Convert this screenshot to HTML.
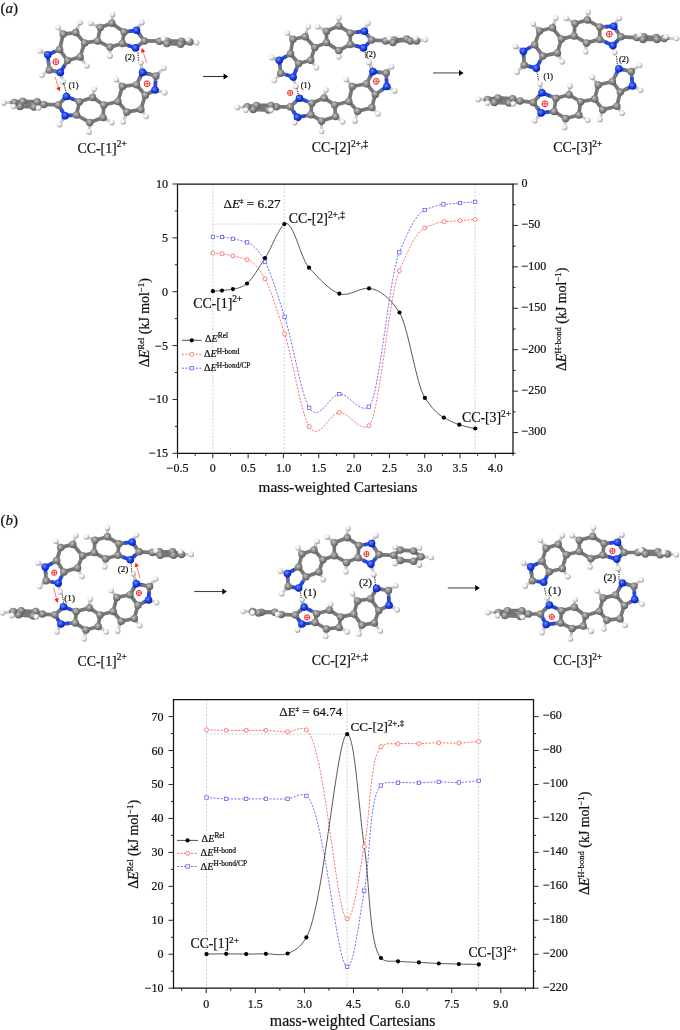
<!DOCTYPE html>
<html><head><meta charset="utf-8"><style>
html,body{margin:0;padding:0;background:#fff;}
#wrap{position:relative;width:680px;height:1030px;overflow:hidden;background:#fff;}
#wrap svg{position:absolute;left:0;top:0;display:block;}
#txt{filter:grayscale(1);}
text{font-family:"Liberation Serif",serif;fill:#111;stroke:#111;stroke-width:0.22px;}
</style></head><body><div id="wrap">
<svg width="680" height="1030" viewBox="0 0 680 1030">
<rect width="680" height="1030" fill="#fff"/>
<line x1="212.8" y1="184" x2="212.8" y2="453.3" stroke="#c4c4c4" stroke-width="0.8" stroke-dasharray="2,1.6"/>
<line x1="284.3" y1="184" x2="284.3" y2="453.3" stroke="#c4c4c4" stroke-width="0.8" stroke-dasharray="2,1.6"/>
<line x1="475.2" y1="184" x2="475.2" y2="453.3" stroke="#c4c4c4" stroke-width="0.8" stroke-dasharray="2,1.6"/>
<line x1="212.8" y1="224.1" x2="284.3" y2="224.1" stroke="#c4c4c4" stroke-width="0.8" stroke-dasharray="2,1.6"/>
<path d="M212.9,253.2 C215.93,253.21 218.97,253.36 222,253.8 C225.63,254.33 229.27,255.16 232.9,255.9 C237.63,256.86 242.37,258.28 247.1,259.7 C253.07,261.49 259.03,267.7 265,278.8 C271.53,290.96 278.07,313.71 284.6,333.9 C292.8,359.24 301,413.5 309.2,426.6 C319.23,442.63 329.27,413.24 339.3,412.5 C349.17,411.77 359.03,432.74 368.9,425.6 C379.03,418.26 389.17,294.54 399.3,270.7 C407.77,250.78 416.23,231.55 424.7,228 C431.17,225.29 437.63,222.15 444.1,221.7 C449.4,221.33 454.7,220.98 460,220.6 C465.07,220.23 470.13,219.87 475.2,219.5" fill="none" stroke="#ff4b4b" stroke-width="0.8" stroke-dasharray="2.1,1.4"/>
<path d="M212.9,236.8 C215.93,236.65 218.97,236.66 222,237 C225.63,237.4 229.27,238.15 232.9,238.8 C237.63,239.64 242.37,241.01 247.1,242.4 C253.07,244.15 259.03,250.38 265,261.8 C271.53,274.3 278.07,296.76 284.6,316.8 C292.8,341.96 301,394.58 309.2,407.8 C319.23,423.97 329.27,394.85 339.3,394.1 C349.17,393.36 359.03,413.76 368.9,406.8 C379.03,399.65 389.17,276.2 399.3,252.4 C407.77,232.52 416.23,213.22 424.7,210 C430.93,207.63 437.17,204.94 443.4,204.4 C448.93,203.92 454.47,203.4 460,203 C465.07,202.63 470.13,202.24 475.2,201.9" fill="none" stroke="#4b4bff" stroke-width="0.8" stroke-dasharray="2.1,1.4"/>
<path d="M212.9,291.2 C215.93,291.11 218.97,290.85 222,290.6 C225.63,290.3 229.27,289.66 232.9,289.1 C237.6,288.37 242.3,287.38 247,283.5 C253,278.55 259,267.1 265,258.2 C271.47,248.6 277.93,229.12 284.4,224.1 C292.6,217.74 300.8,258.96 309,267.7 C319.1,278.46 329.2,290.12 339.3,293.7 C349.2,297.21 359.1,287.41 369,288.4 C379.17,289.41 389.33,296.76 399.5,312.5 C407.97,325.6 416.43,385.44 424.9,397.9 C431.2,407.17 437.5,414.39 443.8,417.6 C448.97,420.23 454.13,423.16 459.3,424.7 C464.63,426.29 469.97,427.82 475.3,428.5" fill="none" stroke="#222" stroke-width="0.75"/>
<circle cx="212.9" cy="291.2" r="2.1" fill="#000"/>
<circle cx="222" cy="290.6" r="2.1" fill="#000"/>
<circle cx="232.9" cy="289.1" r="2.1" fill="#000"/>
<circle cx="247" cy="283.5" r="2.1" fill="#000"/>
<circle cx="265" cy="258.2" r="2.1" fill="#000"/>
<circle cx="284.4" cy="224.1" r="2.1" fill="#000"/>
<circle cx="309" cy="267.7" r="2.1" fill="#000"/>
<circle cx="339.3" cy="293.7" r="2.1" fill="#000"/>
<circle cx="369" cy="288.4" r="2.1" fill="#000"/>
<circle cx="399.5" cy="312.5" r="2.1" fill="#000"/>
<circle cx="424.9" cy="397.9" r="2.1" fill="#000"/>
<circle cx="443.8" cy="417.6" r="2.1" fill="#000"/>
<circle cx="459.3" cy="424.7" r="2.1" fill="#000"/>
<circle cx="475.3" cy="428.5" r="2.1" fill="#000"/>
<circle cx="212.9" cy="253.2" r="2" fill="#fff" stroke="#ff4b4b" stroke-width="0.7"/>
<circle cx="222" cy="253.8" r="2" fill="#fff" stroke="#ff4b4b" stroke-width="0.7"/>
<circle cx="232.9" cy="255.9" r="2" fill="#fff" stroke="#ff4b4b" stroke-width="0.7"/>
<circle cx="247.1" cy="259.7" r="2" fill="#fff" stroke="#ff4b4b" stroke-width="0.7"/>
<circle cx="265" cy="278.8" r="2" fill="#fff" stroke="#ff4b4b" stroke-width="0.7"/>
<circle cx="284.6" cy="333.9" r="2" fill="#fff" stroke="#ff4b4b" stroke-width="0.7"/>
<circle cx="309.2" cy="426.6" r="2" fill="#fff" stroke="#ff4b4b" stroke-width="0.7"/>
<circle cx="339.3" cy="412.5" r="2" fill="#fff" stroke="#ff4b4b" stroke-width="0.7"/>
<circle cx="368.9" cy="425.6" r="2" fill="#fff" stroke="#ff4b4b" stroke-width="0.7"/>
<circle cx="399.3" cy="270.7" r="2" fill="#fff" stroke="#ff4b4b" stroke-width="0.7"/>
<circle cx="424.7" cy="228" r="2" fill="#fff" stroke="#ff4b4b" stroke-width="0.7"/>
<circle cx="444.1" cy="221.7" r="2" fill="#fff" stroke="#ff4b4b" stroke-width="0.7"/>
<circle cx="460" cy="220.6" r="2" fill="#fff" stroke="#ff4b4b" stroke-width="0.7"/>
<circle cx="475.2" cy="219.5" r="2" fill="#fff" stroke="#ff4b4b" stroke-width="0.7"/>
<rect x="211.2" y="235.1" width="3.4" height="3.4" fill="#fff" stroke="#4b4bff" stroke-width="0.7"/>
<rect x="220.3" y="235.3" width="3.4" height="3.4" fill="#fff" stroke="#4b4bff" stroke-width="0.7"/>
<rect x="231.2" y="237.1" width="3.4" height="3.4" fill="#fff" stroke="#4b4bff" stroke-width="0.7"/>
<rect x="245.4" y="240.7" width="3.4" height="3.4" fill="#fff" stroke="#4b4bff" stroke-width="0.7"/>
<rect x="263.3" y="260.1" width="3.4" height="3.4" fill="#fff" stroke="#4b4bff" stroke-width="0.7"/>
<rect x="282.9" y="315.1" width="3.4" height="3.4" fill="#fff" stroke="#4b4bff" stroke-width="0.7"/>
<rect x="307.5" y="406.1" width="3.4" height="3.4" fill="#fff" stroke="#4b4bff" stroke-width="0.7"/>
<rect x="337.6" y="392.4" width="3.4" height="3.4" fill="#fff" stroke="#4b4bff" stroke-width="0.7"/>
<rect x="367.2" y="405.1" width="3.4" height="3.4" fill="#fff" stroke="#4b4bff" stroke-width="0.7"/>
<rect x="397.6" y="250.7" width="3.4" height="3.4" fill="#fff" stroke="#4b4bff" stroke-width="0.7"/>
<rect x="423" y="208.3" width="3.4" height="3.4" fill="#fff" stroke="#4b4bff" stroke-width="0.7"/>
<rect x="441.7" y="202.7" width="3.4" height="3.4" fill="#fff" stroke="#4b4bff" stroke-width="0.7"/>
<rect x="458.3" y="201.3" width="3.4" height="3.4" fill="#fff" stroke="#4b4bff" stroke-width="0.7"/>
<rect x="473.5" y="200.2" width="3.4" height="3.4" fill="#fff" stroke="#4b4bff" stroke-width="0.7"/>
<path d="M177.5,184 H513 V453.3 H177.5 Z" fill="none" stroke="#111" stroke-width="1.25"/>
<line x1="177.5" y1="453.3" x2="177.5" y2="458.3" stroke="#111" stroke-width="0.9"/>
<line x1="212.82" y1="453.3" x2="212.82" y2="458.3" stroke="#111" stroke-width="0.9"/>
<line x1="248.13" y1="453.3" x2="248.13" y2="458.3" stroke="#111" stroke-width="0.9"/>
<line x1="283.45" y1="453.3" x2="283.45" y2="458.3" stroke="#111" stroke-width="0.9"/>
<line x1="318.76" y1="453.3" x2="318.76" y2="458.3" stroke="#111" stroke-width="0.9"/>
<line x1="354.08" y1="453.3" x2="354.08" y2="458.3" stroke="#111" stroke-width="0.9"/>
<line x1="389.39" y1="453.3" x2="389.39" y2="458.3" stroke="#111" stroke-width="0.9"/>
<line x1="424.71" y1="453.3" x2="424.71" y2="458.3" stroke="#111" stroke-width="0.9"/>
<line x1="460.03" y1="453.3" x2="460.03" y2="458.3" stroke="#111" stroke-width="0.9"/>
<line x1="495.34" y1="453.3" x2="495.34" y2="458.3" stroke="#111" stroke-width="0.9"/>
<line x1="195.16" y1="453.3" x2="195.16" y2="455.9" stroke="#111" stroke-width="0.9"/>
<line x1="230.47" y1="453.3" x2="230.47" y2="455.9" stroke="#111" stroke-width="0.9"/>
<line x1="265.79" y1="453.3" x2="265.79" y2="455.9" stroke="#111" stroke-width="0.9"/>
<line x1="301.11" y1="453.3" x2="301.11" y2="455.9" stroke="#111" stroke-width="0.9"/>
<line x1="336.42" y1="453.3" x2="336.42" y2="455.9" stroke="#111" stroke-width="0.9"/>
<line x1="371.74" y1="453.3" x2="371.74" y2="455.9" stroke="#111" stroke-width="0.9"/>
<line x1="407.05" y1="453.3" x2="407.05" y2="455.9" stroke="#111" stroke-width="0.9"/>
<line x1="442.37" y1="453.3" x2="442.37" y2="455.9" stroke="#111" stroke-width="0.9"/>
<line x1="477.68" y1="453.3" x2="477.68" y2="455.9" stroke="#111" stroke-width="0.9"/>
<line x1="513" y1="453.3" x2="513" y2="455.9" stroke="#111" stroke-width="0.9"/>
<line x1="172.5" y1="184" x2="177.5" y2="184" stroke="#111" stroke-width="0.9"/>
<line x1="172.5" y1="237.86" x2="177.5" y2="237.86" stroke="#111" stroke-width="0.9"/>
<line x1="172.5" y1="291.72" x2="177.5" y2="291.72" stroke="#111" stroke-width="0.9"/>
<line x1="172.5" y1="345.58" x2="177.5" y2="345.58" stroke="#111" stroke-width="0.9"/>
<line x1="172.5" y1="399.44" x2="177.5" y2="399.44" stroke="#111" stroke-width="0.9"/>
<line x1="172.5" y1="453.3" x2="177.5" y2="453.3" stroke="#111" stroke-width="0.9"/>
<line x1="174.9" y1="210.93" x2="177.5" y2="210.93" stroke="#111" stroke-width="0.9"/>
<line x1="174.9" y1="264.79" x2="177.5" y2="264.79" stroke="#111" stroke-width="0.9"/>
<line x1="174.9" y1="318.65" x2="177.5" y2="318.65" stroke="#111" stroke-width="0.9"/>
<line x1="174.9" y1="372.51" x2="177.5" y2="372.51" stroke="#111" stroke-width="0.9"/>
<line x1="174.9" y1="426.37" x2="177.5" y2="426.37" stroke="#111" stroke-width="0.9"/>
<line x1="513" y1="184" x2="518" y2="184" stroke="#111" stroke-width="0.9"/>
<line x1="513" y1="225.43" x2="518" y2="225.43" stroke="#111" stroke-width="0.9"/>
<line x1="513" y1="266.86" x2="518" y2="266.86" stroke="#111" stroke-width="0.9"/>
<line x1="513" y1="308.29" x2="518" y2="308.29" stroke="#111" stroke-width="0.9"/>
<line x1="513" y1="349.72" x2="518" y2="349.72" stroke="#111" stroke-width="0.9"/>
<line x1="513" y1="391.15" x2="518" y2="391.15" stroke="#111" stroke-width="0.9"/>
<line x1="513" y1="432.58" x2="518" y2="432.58" stroke="#111" stroke-width="0.9"/>
<line x1="513" y1="204.72" x2="515.6" y2="204.72" stroke="#111" stroke-width="0.9"/>
<line x1="513" y1="246.15" x2="515.6" y2="246.15" stroke="#111" stroke-width="0.9"/>
<line x1="513" y1="287.58" x2="515.6" y2="287.58" stroke="#111" stroke-width="0.9"/>
<line x1="513" y1="329.01" x2="515.6" y2="329.01" stroke="#111" stroke-width="0.9"/>
<line x1="513" y1="370.44" x2="515.6" y2="370.44" stroke="#111" stroke-width="0.9"/>
<line x1="513" y1="411.87" x2="515.6" y2="411.87" stroke="#111" stroke-width="0.9"/>
<line x1="513" y1="453.3" x2="515.6" y2="453.3" stroke="#111" stroke-width="0.9"/>
<line x1="181.8" y1="340.3" x2="201.6" y2="340.3" stroke="#222" stroke-width="0.8"/>
<circle cx="191.8" cy="340.3" r="2.1" fill="#000"/>
<line x1="181.8" y1="354.3" x2="201.6" y2="354.3" stroke="#ff4b4b" stroke-width="0.8" stroke-dasharray="2.1,1.4"/>
<circle cx="191.8" cy="354.3" r="2" fill="#fff" stroke="#ff4b4b" stroke-width="0.7"/>
<line x1="181.8" y1="368.2" x2="201.6" y2="368.2" stroke="#4b4bff" stroke-width="0.8" stroke-dasharray="2.1,1.4"/>
<rect x="190.1" y="366.5" width="3.4" height="3.4" fill="#fff" stroke="#4b4bff" stroke-width="0.7"/>
<line x1="206.5" y1="699.6" x2="206.5" y2="988.2" stroke="#c4c4c4" stroke-width="0.8" stroke-dasharray="2,1.6"/>
<line x1="347.2" y1="699.6" x2="347.2" y2="988.2" stroke="#c4c4c4" stroke-width="0.8" stroke-dasharray="2,1.6"/>
<line x1="478.7" y1="699.6" x2="478.7" y2="988.2" stroke="#c4c4c4" stroke-width="0.8" stroke-dasharray="2,1.6"/>
<line x1="206.5" y1="734.1" x2="347.2" y2="734.1" stroke="#c4c4c4" stroke-width="0.8" stroke-dasharray="2,1.6"/>
<path d="M206.5,729.8 C213.07,730 219.61,730.3 226.2,730.4 C232.84,730.5 239.56,730.4 246.2,730.4 C252.79,730.4 259.18,730.17 265.9,730.4 C272.96,730.64 280.63,732.03 287.6,731.9 C294.1,731.78 300.61,725.72 306.4,729.9 C324.91,743.28 336.32,918.79 347.2,918.9 C353.94,918.97 359.03,872.74 364.3,846.6 C370.45,816.08 369.65,758.09 381,746.7 C385.68,742 392.02,744.34 398,743.8 C404.59,743.21 412.02,743.77 418.9,743.6 C425.62,743.43 432.15,742.88 438.8,742.8 C445.48,742.72 452.23,743.34 458.9,743.1 C465.53,742.87 472.1,741.97 478.7,741.4" fill="none" stroke="#ff4b4b" stroke-width="0.8" stroke-dasharray="2.1,1.4"/>
<path d="M206.5,797.5 C213.07,797.97 219.6,798.67 226.2,798.9 C232.84,799.14 239.56,798.9 246.2,798.9 C252.79,798.9 259.17,798.92 265.9,798.9 C272.96,798.88 280.65,799.35 287.6,798.8 C294.11,798.29 300.58,791.99 306.4,795.9 C324.1,807.79 336.63,966.87 347.2,966.8 C354.24,966.75 359.06,918.21 364.3,890.7 C370.43,858.56 369.13,797.24 380.8,785.5 C385.52,780.75 391.97,783.17 398,782.7 C404.61,782.18 412.02,782.94 418.9,782.8 C425.62,782.66 432.15,781.95 438.8,781.9 C445.48,781.85 452.23,782.69 458.9,782.5 C465.53,782.31 472.1,781.37 478.7,780.8" fill="none" stroke="#4b4bff" stroke-width="0.8" stroke-dasharray="2.1,1.4"/>
<path d="M206.5,954.1 C213.07,954 219.61,953.8 226.2,953.8 C232.84,953.8 239.56,954.1 246.2,954.1 C252.79,954.1 259.17,953.9 265.9,953.8 C272.96,953.7 281.03,955.98 287.6,953.5 C294.62,950.85 300.54,947.4 306.4,937.4 C323.37,908.45 336.99,733.86 347.2,734.1 C354.76,734.28 358.65,809.27 364.3,846.7 C369.92,883.91 369.06,945.53 381,958 C385.69,962.89 392.01,960.57 398,961.3 C404.58,962.11 412.02,962.03 418.9,962.4 C425.61,962.76 432.16,963.22 438.8,963.5 C445.46,963.78 452.13,963.95 458.8,964.1 C465.47,964.25 472.13,964.3 478.8,964.4" fill="none" stroke="#222" stroke-width="0.75"/>
<circle cx="206.5" cy="954.1" r="2.1" fill="#000"/>
<circle cx="226.2" cy="953.8" r="2.1" fill="#000"/>
<circle cx="246.2" cy="954.1" r="2.1" fill="#000"/>
<circle cx="265.9" cy="953.8" r="2.1" fill="#000"/>
<circle cx="287.6" cy="953.5" r="2.1" fill="#000"/>
<circle cx="306.4" cy="937.4" r="2.1" fill="#000"/>
<circle cx="347.2" cy="734.1" r="2.1" fill="#000"/>
<circle cx="381" cy="958" r="2.1" fill="#000"/>
<circle cx="398" cy="961.3" r="2.1" fill="#000"/>
<circle cx="418.9" cy="962.4" r="2.1" fill="#000"/>
<circle cx="438.8" cy="963.5" r="2.1" fill="#000"/>
<circle cx="458.8" cy="964.1" r="2.1" fill="#000"/>
<circle cx="478.8" cy="964.4" r="2.1" fill="#000"/>
<circle cx="206.5" cy="729.8" r="2" fill="#fff" stroke="#ff4b4b" stroke-width="0.7"/>
<circle cx="226.2" cy="730.4" r="2" fill="#fff" stroke="#ff4b4b" stroke-width="0.7"/>
<circle cx="246.2" cy="730.4" r="2" fill="#fff" stroke="#ff4b4b" stroke-width="0.7"/>
<circle cx="265.9" cy="730.4" r="2" fill="#fff" stroke="#ff4b4b" stroke-width="0.7"/>
<circle cx="287.6" cy="731.9" r="2" fill="#fff" stroke="#ff4b4b" stroke-width="0.7"/>
<circle cx="306.4" cy="729.9" r="2" fill="#fff" stroke="#ff4b4b" stroke-width="0.7"/>
<circle cx="347.2" cy="918.9" r="2" fill="#fff" stroke="#ff4b4b" stroke-width="0.7"/>
<circle cx="364.3" cy="846.6" r="2" fill="#fff" stroke="#ff4b4b" stroke-width="0.7"/>
<circle cx="381" cy="746.7" r="2" fill="#fff" stroke="#ff4b4b" stroke-width="0.7"/>
<circle cx="398" cy="743.8" r="2" fill="#fff" stroke="#ff4b4b" stroke-width="0.7"/>
<circle cx="418.9" cy="743.6" r="2" fill="#fff" stroke="#ff4b4b" stroke-width="0.7"/>
<circle cx="438.8" cy="742.8" r="2" fill="#fff" stroke="#ff4b4b" stroke-width="0.7"/>
<circle cx="458.9" cy="743.1" r="2" fill="#fff" stroke="#ff4b4b" stroke-width="0.7"/>
<circle cx="478.7" cy="741.4" r="2" fill="#fff" stroke="#ff4b4b" stroke-width="0.7"/>
<rect x="204.8" y="795.8" width="3.4" height="3.4" fill="#fff" stroke="#4b4bff" stroke-width="0.7"/>
<rect x="224.5" y="797.2" width="3.4" height="3.4" fill="#fff" stroke="#4b4bff" stroke-width="0.7"/>
<rect x="244.5" y="797.2" width="3.4" height="3.4" fill="#fff" stroke="#4b4bff" stroke-width="0.7"/>
<rect x="264.2" y="797.2" width="3.4" height="3.4" fill="#fff" stroke="#4b4bff" stroke-width="0.7"/>
<rect x="285.9" y="797.1" width="3.4" height="3.4" fill="#fff" stroke="#4b4bff" stroke-width="0.7"/>
<rect x="304.7" y="794.2" width="3.4" height="3.4" fill="#fff" stroke="#4b4bff" stroke-width="0.7"/>
<rect x="345.5" y="965.1" width="3.4" height="3.4" fill="#fff" stroke="#4b4bff" stroke-width="0.7"/>
<rect x="362.6" y="889" width="3.4" height="3.4" fill="#fff" stroke="#4b4bff" stroke-width="0.7"/>
<rect x="379.1" y="783.8" width="3.4" height="3.4" fill="#fff" stroke="#4b4bff" stroke-width="0.7"/>
<rect x="396.3" y="781" width="3.4" height="3.4" fill="#fff" stroke="#4b4bff" stroke-width="0.7"/>
<rect x="417.2" y="781.1" width="3.4" height="3.4" fill="#fff" stroke="#4b4bff" stroke-width="0.7"/>
<rect x="437.1" y="780.2" width="3.4" height="3.4" fill="#fff" stroke="#4b4bff" stroke-width="0.7"/>
<rect x="457.2" y="780.8" width="3.4" height="3.4" fill="#fff" stroke="#4b4bff" stroke-width="0.7"/>
<rect x="477" y="779.1" width="3.4" height="3.4" fill="#fff" stroke="#4b4bff" stroke-width="0.7"/>
<path d="M173.5,699.6 H533.5 V988.2 H173.5 Z" fill="none" stroke="#111" stroke-width="1.25"/>
<line x1="206.23" y1="988.2" x2="206.23" y2="993.2" stroke="#111" stroke-width="0.9"/>
<line x1="255.32" y1="988.2" x2="255.32" y2="993.2" stroke="#111" stroke-width="0.9"/>
<line x1="304.41" y1="988.2" x2="304.41" y2="993.2" stroke="#111" stroke-width="0.9"/>
<line x1="353.5" y1="988.2" x2="353.5" y2="993.2" stroke="#111" stroke-width="0.9"/>
<line x1="402.59" y1="988.2" x2="402.59" y2="993.2" stroke="#111" stroke-width="0.9"/>
<line x1="451.68" y1="988.2" x2="451.68" y2="993.2" stroke="#111" stroke-width="0.9"/>
<line x1="500.77" y1="988.2" x2="500.77" y2="993.2" stroke="#111" stroke-width="0.9"/>
<line x1="181.68" y1="988.2" x2="181.68" y2="990.8" stroke="#111" stroke-width="0.9"/>
<line x1="230.77" y1="988.2" x2="230.77" y2="990.8" stroke="#111" stroke-width="0.9"/>
<line x1="279.86" y1="988.2" x2="279.86" y2="990.8" stroke="#111" stroke-width="0.9"/>
<line x1="328.95" y1="988.2" x2="328.95" y2="990.8" stroke="#111" stroke-width="0.9"/>
<line x1="378.05" y1="988.2" x2="378.05" y2="990.8" stroke="#111" stroke-width="0.9"/>
<line x1="427.14" y1="988.2" x2="427.14" y2="990.8" stroke="#111" stroke-width="0.9"/>
<line x1="476.23" y1="988.2" x2="476.23" y2="990.8" stroke="#111" stroke-width="0.9"/>
<line x1="525.32" y1="988.2" x2="525.32" y2="990.8" stroke="#111" stroke-width="0.9"/>
<line x1="168.5" y1="716.58" x2="173.5" y2="716.58" stroke="#111" stroke-width="0.9"/>
<line x1="168.5" y1="750.53" x2="173.5" y2="750.53" stroke="#111" stroke-width="0.9"/>
<line x1="168.5" y1="784.48" x2="173.5" y2="784.48" stroke="#111" stroke-width="0.9"/>
<line x1="168.5" y1="818.44" x2="173.5" y2="818.44" stroke="#111" stroke-width="0.9"/>
<line x1="168.5" y1="852.39" x2="173.5" y2="852.39" stroke="#111" stroke-width="0.9"/>
<line x1="168.5" y1="886.34" x2="173.5" y2="886.34" stroke="#111" stroke-width="0.9"/>
<line x1="168.5" y1="920.29" x2="173.5" y2="920.29" stroke="#111" stroke-width="0.9"/>
<line x1="168.5" y1="954.25" x2="173.5" y2="954.25" stroke="#111" stroke-width="0.9"/>
<line x1="168.5" y1="988.2" x2="173.5" y2="988.2" stroke="#111" stroke-width="0.9"/>
<line x1="170.9" y1="733.55" x2="173.5" y2="733.55" stroke="#111" stroke-width="0.9"/>
<line x1="170.9" y1="767.51" x2="173.5" y2="767.51" stroke="#111" stroke-width="0.9"/>
<line x1="170.9" y1="801.46" x2="173.5" y2="801.46" stroke="#111" stroke-width="0.9"/>
<line x1="170.9" y1="835.41" x2="173.5" y2="835.41" stroke="#111" stroke-width="0.9"/>
<line x1="170.9" y1="869.36" x2="173.5" y2="869.36" stroke="#111" stroke-width="0.9"/>
<line x1="170.9" y1="903.32" x2="173.5" y2="903.32" stroke="#111" stroke-width="0.9"/>
<line x1="170.9" y1="937.27" x2="173.5" y2="937.27" stroke="#111" stroke-width="0.9"/>
<line x1="170.9" y1="971.22" x2="173.5" y2="971.22" stroke="#111" stroke-width="0.9"/>
<line x1="533.5" y1="716.58" x2="538.5" y2="716.58" stroke="#111" stroke-width="0.9"/>
<line x1="533.5" y1="750.53" x2="538.5" y2="750.53" stroke="#111" stroke-width="0.9"/>
<line x1="533.5" y1="784.48" x2="538.5" y2="784.48" stroke="#111" stroke-width="0.9"/>
<line x1="533.5" y1="818.44" x2="538.5" y2="818.44" stroke="#111" stroke-width="0.9"/>
<line x1="533.5" y1="852.39" x2="538.5" y2="852.39" stroke="#111" stroke-width="0.9"/>
<line x1="533.5" y1="886.34" x2="538.5" y2="886.34" stroke="#111" stroke-width="0.9"/>
<line x1="533.5" y1="920.29" x2="538.5" y2="920.29" stroke="#111" stroke-width="0.9"/>
<line x1="533.5" y1="954.25" x2="538.5" y2="954.25" stroke="#111" stroke-width="0.9"/>
<line x1="533.5" y1="988.2" x2="538.5" y2="988.2" stroke="#111" stroke-width="0.9"/>
<line x1="533.5" y1="733.55" x2="536.1" y2="733.55" stroke="#111" stroke-width="0.9"/>
<line x1="533.5" y1="767.51" x2="536.1" y2="767.51" stroke="#111" stroke-width="0.9"/>
<line x1="533.5" y1="801.46" x2="536.1" y2="801.46" stroke="#111" stroke-width="0.9"/>
<line x1="533.5" y1="835.41" x2="536.1" y2="835.41" stroke="#111" stroke-width="0.9"/>
<line x1="533.5" y1="869.36" x2="536.1" y2="869.36" stroke="#111" stroke-width="0.9"/>
<line x1="533.5" y1="903.32" x2="536.1" y2="903.32" stroke="#111" stroke-width="0.9"/>
<line x1="533.5" y1="937.27" x2="536.1" y2="937.27" stroke="#111" stroke-width="0.9"/>
<line x1="533.5" y1="971.22" x2="536.1" y2="971.22" stroke="#111" stroke-width="0.9"/>
<line x1="177" y1="840.4" x2="198" y2="840.4" stroke="#222" stroke-width="0.8"/>
<circle cx="187.6" cy="840.4" r="2.1" fill="#000"/>
<line x1="177" y1="853.4" x2="198" y2="853.4" stroke="#ff4b4b" stroke-width="0.8" stroke-dasharray="2.1,1.4"/>
<circle cx="187.6" cy="853.4" r="2" fill="#fff" stroke="#ff4b4b" stroke-width="0.7"/>
<line x1="177" y1="866.5" x2="198" y2="866.5" stroke="#4b4bff" stroke-width="0.8" stroke-dasharray="2.1,1.4"/>
<rect x="185.9" y="864.8" width="3.4" height="3.4" fill="#fff" stroke="#4b4bff" stroke-width="0.7"/>
<line x1="203.1" y1="76.5" x2="224.5" y2="76.5" stroke="#333" stroke-width="1.1"/>
<path d="M228.2,76.5 L223.6,73.5 L223.6,79.5 Z" fill="#000"/>
<line x1="433.1" y1="72.9" x2="460" y2="72.9" stroke="#777" stroke-width="1.4"/>
<path d="M463.6,72.9 L459,69.9 L459,75.9 Z" fill="#000"/>
<line x1="194.3" y1="591.5" x2="222.5" y2="591.5" stroke="#444" stroke-width="1.1"/>
<path d="M226.9,591.5 L222.3,588.5 L222.3,594.5 Z" fill="#000"/>
<line x1="447.8" y1="587.9" x2="475.5" y2="587.9" stroke="#777" stroke-width="1.4"/>
<path d="M479.8,587.9 L475.2,584.9 L475.2,590.9 Z" fill="#000"/>
<defs>
<radialGradient id="gC" cx="0.4" cy="0.37" r="0.68"><stop offset="0" stop-color="#c4c4c4"/><stop offset="0.5" stop-color="#868686"/><stop offset="1" stop-color="#555"/></radialGradient>
<radialGradient id="gN" cx="0.4" cy="0.37" r="0.68"><stop offset="0" stop-color="#6d8cff"/><stop offset="0.5" stop-color="#1c40e6"/><stop offset="1" stop-color="#0a1c88"/></radialGradient>
<radialGradient id="gH" cx="0.38" cy="0.35" r="0.7"><stop offset="0" stop-color="#ffffff"/><stop offset="0.5" stop-color="#ececec"/><stop offset="1" stop-color="#8a8a8a"/></radialGradient>
<filter id="soft" x="-5%" y="-5%" width="110%" height="110%"><feGaussianBlur stdDeviation="0.3"/></filter>
</defs>
<g filter="url(#soft)">
<g stroke-linecap="round">
<line x1="63.2" y1="34.1" x2="75.7" y2="32.6" stroke="#777777" stroke-width="3.7"/>
<line x1="63.2" y1="34.1" x2="59.6" y2="49.6" stroke="#777777" stroke-width="3.7"/>
<line x1="75.7" y1="32.6" x2="84.6" y2="42.9" stroke="#777777" stroke-width="3.7"/>
<line x1="84.6" y1="42.9" x2="80.1" y2="56.9" stroke="#777777" stroke-width="3.7"/>
<line x1="84.6" y1="42.9" x2="97.6" y2="40.9" stroke="#777777" stroke-width="3.7"/>
<line x1="80.1" y1="56.9" x2="67.6" y2="60.6" stroke="#777777" stroke-width="3.7"/>
<line x1="67.6" y1="60.6" x2="59.6" y2="49.6" stroke="#777777" stroke-width="3.7"/>
<line x1="67.6" y1="60.6" x2="63.95" y2="66.5" stroke="#777777" stroke-width="3.7"/>
<line x1="63.95" y1="66.5" x2="60.3" y2="72.4" stroke="#2146ea" stroke-width="3.7"/>
<line x1="59.6" y1="49.6" x2="53.7" y2="52.15" stroke="#777777" stroke-width="3.7"/>
<line x1="53.7" y1="52.15" x2="47.8" y2="54.7" stroke="#2146ea" stroke-width="3.7"/>
<line x1="47.8" y1="54.7" x2="48.55" y2="62.4" stroke="#2146ea" stroke-width="3.7"/>
<line x1="48.55" y1="62.4" x2="49.3" y2="70.1" stroke="#777777" stroke-width="3.7"/>
<line x1="60.3" y1="72.4" x2="54.8" y2="71.25" stroke="#2146ea" stroke-width="3.7"/>
<line x1="54.8" y1="71.25" x2="49.3" y2="70.1" stroke="#777777" stroke-width="3.7"/>
<line x1="97.6" y1="40.9" x2="100.3" y2="27.6" stroke="#777777" stroke-width="3.7"/>
<line x1="97.6" y1="40.9" x2="110" y2="47.1" stroke="#777777" stroke-width="3.7"/>
<line x1="100.3" y1="27.6" x2="111.8" y2="23.2" stroke="#777777" stroke-width="3.7"/>
<line x1="111.8" y1="23.2" x2="124.1" y2="32.1" stroke="#777777" stroke-width="3.7"/>
<line x1="124.1" y1="32.1" x2="122.4" y2="43.5" stroke="#777777" stroke-width="3.7"/>
<line x1="124.1" y1="32.1" x2="130.3" y2="31.2" stroke="#777777" stroke-width="3.7"/>
<line x1="130.3" y1="31.2" x2="136.5" y2="30.3" stroke="#2146ea" stroke-width="3.7"/>
<line x1="122.4" y1="43.5" x2="110" y2="47.1" stroke="#777777" stroke-width="3.7"/>
<line x1="122.4" y1="43.5" x2="129" y2="45.7" stroke="#777777" stroke-width="3.7"/>
<line x1="129" y1="45.7" x2="135.6" y2="47.9" stroke="#2146ea" stroke-width="3.7"/>
<line x1="136.5" y1="30.3" x2="140.45" y2="35.6" stroke="#2146ea" stroke-width="3.7"/>
<line x1="140.45" y1="35.6" x2="144.4" y2="40.9" stroke="#777777" stroke-width="3.7"/>
<line x1="135.6" y1="47.9" x2="140" y2="44.4" stroke="#2146ea" stroke-width="3.7"/>
<line x1="140" y1="44.4" x2="144.4" y2="40.9" stroke="#777777" stroke-width="3.7"/>
<line x1="144.4" y1="40.9" x2="159.4" y2="41.2" stroke="#777777" stroke-width="3.7"/>
<line x1="159.4" y1="41.2" x2="167.4" y2="41.2" stroke="#777777" stroke-width="3.7"/>
<line x1="159.4" y1="41.2" x2="166.9" y2="43.5" stroke="#777777" stroke-width="3.7"/>
<line x1="167.4" y1="41.2" x2="166.9" y2="43.5" stroke="#777777" stroke-width="3.7"/>
<line x1="167.4" y1="41.2" x2="181.5" y2="41.2" stroke="#777777" stroke-width="3.7"/>
<line x1="167.4" y1="41.2" x2="180.6" y2="44.3" stroke="#777777" stroke-width="3.7"/>
<line x1="166.9" y1="43.5" x2="181.5" y2="41.2" stroke="#777777" stroke-width="3.7"/>
<line x1="166.9" y1="43.5" x2="180.6" y2="44.3" stroke="#777777" stroke-width="3.7"/>
<line x1="181.5" y1="41.2" x2="180.6" y2="44.3" stroke="#777777" stroke-width="3.7"/>
<line x1="181.5" y1="41.2" x2="189.9" y2="42.1" stroke="#777777" stroke-width="3.7"/>
<line x1="180.6" y1="44.3" x2="189.9" y2="42.1" stroke="#777777" stroke-width="3.7"/>
<line x1="142.6" y1="72.4" x2="149.25" y2="74.15" stroke="#2146ea" stroke-width="3.7"/>
<line x1="149.25" y1="74.15" x2="155.9" y2="75.9" stroke="#777777" stroke-width="3.7"/>
<line x1="142.6" y1="72.4" x2="139.55" y2="78.55" stroke="#2146ea" stroke-width="3.7"/>
<line x1="139.55" y1="78.55" x2="136.5" y2="84.7" stroke="#777777" stroke-width="3.7"/>
<line x1="155.9" y1="75.9" x2="155.45" y2="82.95" stroke="#777777" stroke-width="3.7"/>
<line x1="155.45" y1="82.95" x2="155" y2="90" stroke="#2146ea" stroke-width="3.7"/>
<line x1="155" y1="90" x2="150.15" y2="92.65" stroke="#2146ea" stroke-width="3.7"/>
<line x1="150.15" y1="92.65" x2="145.3" y2="95.3" stroke="#777777" stroke-width="3.7"/>
<line x1="145.3" y1="95.3" x2="136.5" y2="84.7" stroke="#777777" stroke-width="3.7"/>
<line x1="145.3" y1="95.3" x2="140.9" y2="109.4" stroke="#777777" stroke-width="3.7"/>
<line x1="136.5" y1="84.7" x2="122.4" y2="86.5" stroke="#777777" stroke-width="3.7"/>
<line x1="122.4" y1="86.5" x2="117.9" y2="101.5" stroke="#777777" stroke-width="3.7"/>
<line x1="117.9" y1="101.5" x2="126.8" y2="112.1" stroke="#777777" stroke-width="3.7"/>
<line x1="117.9" y1="101.5" x2="103.8" y2="105" stroke="#777777" stroke-width="3.7"/>
<line x1="126.8" y1="112.1" x2="140.9" y2="109.4" stroke="#777777" stroke-width="3.7"/>
<line x1="79.4" y1="101.8" x2="92.6" y2="97.4" stroke="#777777" stroke-width="3.7"/>
<line x1="79.4" y1="101.8" x2="76.5" y2="115" stroke="#777777" stroke-width="3.7"/>
<line x1="79.4" y1="101.8" x2="72.9" y2="99.15" stroke="#777777" stroke-width="3.7"/>
<line x1="72.9" y1="99.15" x2="66.4" y2="96.5" stroke="#2146ea" stroke-width="3.7"/>
<line x1="92.6" y1="97.4" x2="103.8" y2="105" stroke="#777777" stroke-width="3.7"/>
<line x1="103.8" y1="105" x2="103" y2="117.4" stroke="#777777" stroke-width="3.7"/>
<line x1="103" y1="117.4" x2="89.7" y2="122.4" stroke="#777777" stroke-width="3.7"/>
<line x1="89.7" y1="122.4" x2="76.5" y2="115" stroke="#777777" stroke-width="3.7"/>
<line x1="76.5" y1="115" x2="70.85" y2="115.35" stroke="#777777" stroke-width="3.7"/>
<line x1="70.85" y1="115.35" x2="65.2" y2="115.7" stroke="#2146ea" stroke-width="3.7"/>
<line x1="66.4" y1="96.5" x2="62.3" y2="100.7" stroke="#2146ea" stroke-width="3.7"/>
<line x1="62.3" y1="100.7" x2="58.2" y2="104.9" stroke="#777777" stroke-width="3.7"/>
<line x1="58.2" y1="104.9" x2="61.7" y2="110.3" stroke="#777777" stroke-width="3.7"/>
<line x1="61.7" y1="110.3" x2="65.2" y2="115.7" stroke="#2146ea" stroke-width="3.7"/>
<line x1="58.2" y1="104.9" x2="43.8" y2="104.4" stroke="#777777" stroke-width="3.7"/>
<line x1="43.8" y1="104.4" x2="37.1" y2="101.8" stroke="#777777" stroke-width="3.7"/>
<line x1="43.8" y1="104.4" x2="34" y2="107" stroke="#777777" stroke-width="3.7"/>
<line x1="37.1" y1="101.8" x2="34" y2="107" stroke="#777777" stroke-width="3.7"/>
<line x1="37.1" y1="101.8" x2="22.7" y2="101.3" stroke="#777777" stroke-width="3.7"/>
<line x1="34" y1="107" x2="22.7" y2="101.3" stroke="#777777" stroke-width="3.7"/>
<line x1="34" y1="107" x2="20.1" y2="106.5" stroke="#777777" stroke-width="3.7"/>
<line x1="22.7" y1="101.3" x2="20.1" y2="106.5" stroke="#777777" stroke-width="3.7"/>
<line x1="22.7" y1="101.3" x2="14.4" y2="102.4" stroke="#777777" stroke-width="3.7"/>
<line x1="20.1" y1="106.5" x2="14.4" y2="102.4" stroke="#777777" stroke-width="3.7"/>
<line x1="63.2" y1="34.1" x2="60.65" y2="30.8" stroke="#777777" stroke-width="2.8"/>
<line x1="60.65" y1="30.8" x2="58.1" y2="27.5" stroke="#cdcdcd" stroke-width="2.8"/>
<line x1="75.7" y1="32.6" x2="77.9" y2="27.5" stroke="#777777" stroke-width="2.8"/>
<line x1="77.9" y1="27.5" x2="80.1" y2="22.4" stroke="#cdcdcd" stroke-width="2.8"/>
<line x1="80.1" y1="56.9" x2="83.45" y2="61.3" stroke="#777777" stroke-width="2.8"/>
<line x1="83.45" y1="61.3" x2="86.8" y2="65.7" stroke="#cdcdcd" stroke-width="2.8"/>
<line x1="47.8" y1="54.7" x2="43.75" y2="52.85" stroke="#2146ea" stroke-width="2.8"/>
<line x1="43.75" y1="52.85" x2="39.7" y2="51" stroke="#cdcdcd" stroke-width="2.8"/>
<line x1="49.3" y1="70.1" x2="45.6" y2="72.7" stroke="#777777" stroke-width="2.8"/>
<line x1="45.6" y1="72.7" x2="41.9" y2="75.3" stroke="#cdcdcd" stroke-width="2.8"/>
<line x1="60.3" y1="72.4" x2="61.75" y2="77.15" stroke="#2146ea" stroke-width="2.8"/>
<line x1="61.75" y1="77.15" x2="63.2" y2="81.9" stroke="#cdcdcd" stroke-width="2.8"/>
<line x1="100.3" y1="27.6" x2="95.45" y2="25.4" stroke="#777777" stroke-width="2.8"/>
<line x1="95.45" y1="25.4" x2="90.6" y2="23.2" stroke="#cdcdcd" stroke-width="2.8"/>
<line x1="111.8" y1="23.2" x2="112.2" y2="18.8" stroke="#777777" stroke-width="2.8"/>
<line x1="112.2" y1="18.8" x2="112.6" y2="14.4" stroke="#cdcdcd" stroke-width="2.8"/>
<line x1="110" y1="47.1" x2="110" y2="51.5" stroke="#777777" stroke-width="2.8"/>
<line x1="110" y1="51.5" x2="110" y2="55.9" stroke="#cdcdcd" stroke-width="2.8"/>
<line x1="136.5" y1="30.3" x2="139.15" y2="26.35" stroke="#2146ea" stroke-width="2.8"/>
<line x1="139.15" y1="26.35" x2="141.8" y2="22.4" stroke="#cdcdcd" stroke-width="2.8"/>
<line x1="159.4" y1="41.2" x2="161.4" y2="40.1" stroke="#777777" stroke-width="2.8"/>
<line x1="161.4" y1="40.1" x2="163.4" y2="39" stroke="#cdcdcd" stroke-width="2.8"/>
<line x1="189.9" y1="42.1" x2="189" y2="40.8" stroke="#777777" stroke-width="2.8"/>
<line x1="189" y1="40.8" x2="188.1" y2="39.5" stroke="#cdcdcd" stroke-width="2.8"/>
<line x1="189.9" y1="42.1" x2="193.2" y2="42.35" stroke="#777777" stroke-width="2.8"/>
<line x1="193.2" y1="42.35" x2="196.5" y2="42.6" stroke="#cdcdcd" stroke-width="2.8"/>
<line x1="142.6" y1="72.4" x2="141.75" y2="67.5" stroke="#2146ea" stroke-width="2.8"/>
<line x1="141.75" y1="67.5" x2="140.9" y2="62.6" stroke="#cdcdcd" stroke-width="2.8"/>
<line x1="155.9" y1="75.9" x2="159.85" y2="71.9" stroke="#777777" stroke-width="2.8"/>
<line x1="159.85" y1="71.9" x2="163.8" y2="67.9" stroke="#cdcdcd" stroke-width="2.8"/>
<line x1="155" y1="90" x2="159.85" y2="91.3" stroke="#2146ea" stroke-width="2.8"/>
<line x1="159.85" y1="91.3" x2="164.7" y2="92.6" stroke="#cdcdcd" stroke-width="2.8"/>
<line x1="122.4" y1="86.5" x2="119.3" y2="82.95" stroke="#777777" stroke-width="2.8"/>
<line x1="119.3" y1="82.95" x2="116.2" y2="79.4" stroke="#cdcdcd" stroke-width="2.8"/>
<line x1="126.8" y1="112.1" x2="125" y2="116.95" stroke="#777777" stroke-width="2.8"/>
<line x1="125" y1="116.95" x2="123.2" y2="121.8" stroke="#cdcdcd" stroke-width="2.8"/>
<line x1="140.9" y1="109.4" x2="143.55" y2="112.95" stroke="#777777" stroke-width="2.8"/>
<line x1="143.55" y1="112.95" x2="146.2" y2="116.5" stroke="#cdcdcd" stroke-width="2.8"/>
<line x1="92.6" y1="97.4" x2="93.35" y2="93.25" stroke="#777777" stroke-width="2.8"/>
<line x1="93.35" y1="93.25" x2="94.1" y2="89.1" stroke="#cdcdcd" stroke-width="2.8"/>
<line x1="103" y1="117.4" x2="107.4" y2="120" stroke="#777777" stroke-width="2.8"/>
<line x1="107.4" y1="120" x2="111.8" y2="122.6" stroke="#cdcdcd" stroke-width="2.8"/>
<line x1="89.7" y1="122.4" x2="89.35" y2="127.15" stroke="#777777" stroke-width="2.8"/>
<line x1="89.35" y1="127.15" x2="89" y2="131.9" stroke="#cdcdcd" stroke-width="2.8"/>
<line x1="65.2" y1="115.7" x2="62.4" y2="120.15" stroke="#2146ea" stroke-width="2.8"/>
<line x1="62.4" y1="120.15" x2="59.6" y2="124.6" stroke="#cdcdcd" stroke-width="2.8"/>
<line x1="34" y1="107" x2="36.3" y2="107.5" stroke="#777777" stroke-width="2.8"/>
<line x1="36.3" y1="107.5" x2="38.6" y2="108" stroke="#cdcdcd" stroke-width="2.8"/>
<line x1="14.4" y1="102.4" x2="13.9" y2="104.45" stroke="#777777" stroke-width="2.8"/>
<line x1="13.9" y1="104.45" x2="13.4" y2="106.5" stroke="#cdcdcd" stroke-width="2.8"/>
<line x1="14.4" y1="102.4" x2="9" y2="102.65" stroke="#777777" stroke-width="2.8"/>
<line x1="9" y1="102.65" x2="3.6" y2="102.9" stroke="#cdcdcd" stroke-width="2.8"/>
</g>
<circle cx="63.2" cy="34.1" r="3.75" fill="url(#gC)"/>
<circle cx="75.7" cy="32.6" r="3.75" fill="url(#gC)"/>
<circle cx="84.6" cy="42.9" r="3.75" fill="url(#gC)"/>
<circle cx="80.1" cy="56.9" r="3.75" fill="url(#gC)"/>
<circle cx="67.6" cy="60.6" r="3.75" fill="url(#gC)"/>
<circle cx="59.6" cy="49.6" r="3.75" fill="url(#gC)"/>
<circle cx="49.3" cy="70.1" r="3.75" fill="url(#gC)"/>
<circle cx="97.6" cy="40.9" r="3.75" fill="url(#gC)"/>
<circle cx="100.3" cy="27.6" r="3.75" fill="url(#gC)"/>
<circle cx="111.8" cy="23.2" r="3.75" fill="url(#gC)"/>
<circle cx="124.1" cy="32.1" r="3.75" fill="url(#gC)"/>
<circle cx="122.4" cy="43.5" r="3.75" fill="url(#gC)"/>
<circle cx="110" cy="47.1" r="3.75" fill="url(#gC)"/>
<circle cx="144.4" cy="40.9" r="3.75" fill="url(#gC)"/>
<circle cx="159.4" cy="41.2" r="3.75" fill="url(#gC)"/>
<circle cx="167.4" cy="41.2" r="3.75" fill="url(#gC)"/>
<circle cx="166.9" cy="43.5" r="3.75" fill="url(#gC)"/>
<circle cx="181.5" cy="41.2" r="3.75" fill="url(#gC)"/>
<circle cx="180.6" cy="44.3" r="3.75" fill="url(#gC)"/>
<circle cx="189.9" cy="42.1" r="3.75" fill="url(#gC)"/>
<circle cx="155.9" cy="75.9" r="3.75" fill="url(#gC)"/>
<circle cx="145.3" cy="95.3" r="3.75" fill="url(#gC)"/>
<circle cx="136.5" cy="84.7" r="3.75" fill="url(#gC)"/>
<circle cx="122.4" cy="86.5" r="3.75" fill="url(#gC)"/>
<circle cx="117.9" cy="101.5" r="3.75" fill="url(#gC)"/>
<circle cx="126.8" cy="112.1" r="3.75" fill="url(#gC)"/>
<circle cx="140.9" cy="109.4" r="3.75" fill="url(#gC)"/>
<circle cx="79.4" cy="101.8" r="3.75" fill="url(#gC)"/>
<circle cx="92.6" cy="97.4" r="3.75" fill="url(#gC)"/>
<circle cx="103.8" cy="105" r="3.75" fill="url(#gC)"/>
<circle cx="103" cy="117.4" r="3.75" fill="url(#gC)"/>
<circle cx="89.7" cy="122.4" r="3.75" fill="url(#gC)"/>
<circle cx="76.5" cy="115" r="3.75" fill="url(#gC)"/>
<circle cx="58.2" cy="104.9" r="3.75" fill="url(#gC)"/>
<circle cx="43.8" cy="104.4" r="3.75" fill="url(#gC)"/>
<circle cx="37.1" cy="101.8" r="3.75" fill="url(#gC)"/>
<circle cx="34" cy="107" r="3.75" fill="url(#gC)"/>
<circle cx="22.7" cy="101.3" r="3.75" fill="url(#gC)"/>
<circle cx="20.1" cy="106.5" r="3.75" fill="url(#gC)"/>
<circle cx="14.4" cy="102.4" r="3.75" fill="url(#gC)"/>
<circle cx="47.8" cy="54.7" r="3.8" fill="url(#gN)"/>
<circle cx="60.3" cy="72.4" r="3.8" fill="url(#gN)"/>
<circle cx="136.5" cy="30.3" r="3.8" fill="url(#gN)"/>
<circle cx="135.6" cy="47.9" r="3.8" fill="url(#gN)"/>
<circle cx="142.6" cy="72.4" r="3.8" fill="url(#gN)"/>
<circle cx="155" cy="90" r="3.8" fill="url(#gN)"/>
<circle cx="66.4" cy="96.5" r="3.8" fill="url(#gN)"/>
<circle cx="65.2" cy="115.7" r="3.8" fill="url(#gN)"/>
<circle cx="58.1" cy="27.5" r="2.8" fill="url(#gH)"/>
<circle cx="80.1" cy="22.4" r="2.8" fill="url(#gH)"/>
<circle cx="86.8" cy="65.7" r="2.8" fill="url(#gH)"/>
<circle cx="39.7" cy="51" r="2.8" fill="url(#gH)"/>
<circle cx="41.9" cy="75.3" r="2.8" fill="url(#gH)"/>
<circle cx="63.2" cy="81.9" r="2.8" fill="url(#gH)"/>
<circle cx="90.6" cy="23.2" r="2.8" fill="url(#gH)"/>
<circle cx="112.6" cy="14.4" r="2.8" fill="url(#gH)"/>
<circle cx="110" cy="55.9" r="2.8" fill="url(#gH)"/>
<circle cx="141.8" cy="22.4" r="2.8" fill="url(#gH)"/>
<circle cx="163.4" cy="39" r="2.8" fill="url(#gH)"/>
<circle cx="188.1" cy="39.5" r="2.8" fill="url(#gH)"/>
<circle cx="196.5" cy="42.6" r="2.8" fill="url(#gH)"/>
<circle cx="140.9" cy="62.6" r="2.8" fill="url(#gH)"/>
<circle cx="163.8" cy="67.9" r="2.8" fill="url(#gH)"/>
<circle cx="164.7" cy="92.6" r="2.8" fill="url(#gH)"/>
<circle cx="116.2" cy="79.4" r="2.8" fill="url(#gH)"/>
<circle cx="123.2" cy="121.8" r="2.8" fill="url(#gH)"/>
<circle cx="146.2" cy="116.5" r="2.8" fill="url(#gH)"/>
<circle cx="94.1" cy="89.1" r="2.8" fill="url(#gH)"/>
<circle cx="111.8" cy="122.6" r="2.8" fill="url(#gH)"/>
<circle cx="89" cy="131.9" r="2.8" fill="url(#gH)"/>
<circle cx="59.6" cy="124.6" r="2.8" fill="url(#gH)"/>
<circle cx="38.6" cy="108" r="2.8" fill="url(#gH)"/>
<circle cx="13.4" cy="106.5" r="2.8" fill="url(#gH)"/>
<circle cx="3.6" cy="102.9" r="2.8" fill="url(#gH)"/>
<g stroke-linecap="round">
<line x1="292.9" y1="39.3" x2="305.1" y2="36.8" stroke="#777777" stroke-width="3.7"/>
<line x1="292.9" y1="39.3" x2="290.5" y2="53.8" stroke="#777777" stroke-width="3.7"/>
<line x1="305.1" y1="36.8" x2="314.8" y2="47.4" stroke="#777777" stroke-width="3.7"/>
<line x1="314.8" y1="47.4" x2="310.7" y2="60.3" stroke="#777777" stroke-width="3.7"/>
<line x1="314.8" y1="47.4" x2="326.5" y2="42.6" stroke="#777777" stroke-width="3.7"/>
<line x1="310.7" y1="60.3" x2="298.6" y2="63.5" stroke="#777777" stroke-width="3.7"/>
<line x1="298.6" y1="63.5" x2="290.5" y2="53.8" stroke="#777777" stroke-width="3.7"/>
<line x1="298.6" y1="63.5" x2="295.9" y2="70.25" stroke="#777777" stroke-width="3.7"/>
<line x1="295.9" y1="70.25" x2="293.2" y2="77" stroke="#2146ea" stroke-width="3.7"/>
<line x1="290.5" y1="53.8" x2="284.85" y2="57.05" stroke="#777777" stroke-width="3.7"/>
<line x1="284.85" y1="57.05" x2="279.2" y2="60.3" stroke="#2146ea" stroke-width="3.7"/>
<line x1="279.2" y1="60.3" x2="280" y2="66.75" stroke="#2146ea" stroke-width="3.7"/>
<line x1="280" y1="66.75" x2="280.8" y2="73.2" stroke="#777777" stroke-width="3.7"/>
<line x1="280.8" y1="73.2" x2="287" y2="75.1" stroke="#777777" stroke-width="3.7"/>
<line x1="287" y1="75.1" x2="293.2" y2="77" stroke="#2146ea" stroke-width="3.7"/>
<line x1="326.5" y1="42.6" x2="326.5" y2="31.2" stroke="#777777" stroke-width="3.7"/>
<line x1="326.5" y1="42.6" x2="338.8" y2="50.6" stroke="#777777" stroke-width="3.7"/>
<line x1="326.5" y1="31.2" x2="338.8" y2="25.9" stroke="#777777" stroke-width="3.7"/>
<line x1="338.8" y1="25.9" x2="350.3" y2="32.9" stroke="#777777" stroke-width="3.7"/>
<line x1="350.3" y1="32.9" x2="350.3" y2="44.4" stroke="#777777" stroke-width="3.7"/>
<line x1="350.3" y1="32.9" x2="357.35" y2="32.05" stroke="#777777" stroke-width="3.7"/>
<line x1="357.35" y1="32.05" x2="364.4" y2="31.2" stroke="#2146ea" stroke-width="3.7"/>
<line x1="350.3" y1="44.4" x2="338.8" y2="50.6" stroke="#777777" stroke-width="3.7"/>
<line x1="350.3" y1="44.4" x2="356.9" y2="46.15" stroke="#777777" stroke-width="3.7"/>
<line x1="356.9" y1="46.15" x2="363.5" y2="47.9" stroke="#2146ea" stroke-width="3.7"/>
<line x1="364.4" y1="31.2" x2="367.95" y2="35.6" stroke="#2146ea" stroke-width="3.7"/>
<line x1="367.95" y1="35.6" x2="371.5" y2="40" stroke="#777777" stroke-width="3.7"/>
<line x1="371.5" y1="40" x2="367.5" y2="43.95" stroke="#777777" stroke-width="3.7"/>
<line x1="367.5" y1="43.95" x2="363.5" y2="47.9" stroke="#2146ea" stroke-width="3.7"/>
<line x1="371.5" y1="40" x2="385.6" y2="40.9" stroke="#777777" stroke-width="3.7"/>
<line x1="385.6" y1="40.9" x2="394.4" y2="40" stroke="#777777" stroke-width="3.7"/>
<line x1="385.6" y1="40.9" x2="393" y2="42.5" stroke="#777777" stroke-width="3.7"/>
<line x1="394.4" y1="40" x2="393" y2="42.5" stroke="#777777" stroke-width="3.7"/>
<line x1="394.4" y1="40" x2="406.8" y2="39.1" stroke="#777777" stroke-width="3.7"/>
<line x1="394.4" y1="40" x2="410.3" y2="40.9" stroke="#777777" stroke-width="3.7"/>
<line x1="393" y1="42.5" x2="406.8" y2="39.1" stroke="#777777" stroke-width="3.7"/>
<line x1="406.8" y1="39.1" x2="410.3" y2="40.9" stroke="#777777" stroke-width="3.7"/>
<line x1="406.8" y1="39.1" x2="416.5" y2="40.9" stroke="#777777" stroke-width="3.7"/>
<line x1="410.3" y1="40.9" x2="416.5" y2="40.9" stroke="#777777" stroke-width="3.7"/>
<line x1="372.9" y1="71.6" x2="379.55" y2="72.3" stroke="#2146ea" stroke-width="3.7"/>
<line x1="379.55" y1="72.3" x2="386.2" y2="73" stroke="#777777" stroke-width="3.7"/>
<line x1="372.9" y1="71.6" x2="369.7" y2="77.7" stroke="#2146ea" stroke-width="3.7"/>
<line x1="369.7" y1="77.7" x2="366.5" y2="83.8" stroke="#777777" stroke-width="3.7"/>
<line x1="386.2" y1="73" x2="386.5" y2="79.75" stroke="#777777" stroke-width="3.7"/>
<line x1="386.5" y1="79.75" x2="386.8" y2="86.5" stroke="#2146ea" stroke-width="3.7"/>
<line x1="386.8" y1="86.5" x2="381.05" y2="90.45" stroke="#2146ea" stroke-width="3.7"/>
<line x1="381.05" y1="90.45" x2="375.3" y2="94.4" stroke="#777777" stroke-width="3.7"/>
<line x1="375.3" y1="94.4" x2="366.5" y2="83.8" stroke="#777777" stroke-width="3.7"/>
<line x1="375.3" y1="94.4" x2="371.8" y2="107.6" stroke="#777777" stroke-width="3.7"/>
<line x1="366.5" y1="83.8" x2="352.3" y2="86.5" stroke="#777777" stroke-width="3.7"/>
<line x1="352.3" y1="86.5" x2="348.8" y2="101.5" stroke="#777777" stroke-width="3.7"/>
<line x1="348.8" y1="101.5" x2="357.6" y2="111.2" stroke="#777777" stroke-width="3.7"/>
<line x1="348.8" y1="101.5" x2="334.7" y2="105" stroke="#777777" stroke-width="3.7"/>
<line x1="357.6" y1="111.2" x2="371.8" y2="107.6" stroke="#777777" stroke-width="3.7"/>
<line x1="334.7" y1="105" x2="324.1" y2="97.9" stroke="#777777" stroke-width="3.7"/>
<line x1="334.7" y1="105" x2="335.6" y2="116.5" stroke="#777777" stroke-width="3.7"/>
<line x1="324.1" y1="97.9" x2="311.8" y2="103.2" stroke="#777777" stroke-width="3.7"/>
<line x1="335.6" y1="116.5" x2="321.5" y2="120.9" stroke="#777777" stroke-width="3.7"/>
<line x1="321.5" y1="120.9" x2="310.9" y2="114.7" stroke="#777777" stroke-width="3.7"/>
<line x1="310.9" y1="114.7" x2="311.8" y2="103.2" stroke="#777777" stroke-width="3.7"/>
<line x1="310.9" y1="114.7" x2="304.2" y2="116.05" stroke="#777777" stroke-width="3.7"/>
<line x1="304.2" y1="116.05" x2="297.5" y2="117.4" stroke="#2146ea" stroke-width="3.7"/>
<line x1="311.8" y1="103.2" x2="305.65" y2="100.7" stroke="#777777" stroke-width="3.7"/>
<line x1="305.65" y1="100.7" x2="299.5" y2="98.2" stroke="#2146ea" stroke-width="3.7"/>
<line x1="299.5" y1="98.2" x2="294.85" y2="102.5" stroke="#2146ea" stroke-width="3.7"/>
<line x1="294.85" y1="102.5" x2="290.2" y2="106.8" stroke="#777777" stroke-width="3.7"/>
<line x1="290.2" y1="106.8" x2="293.85" y2="112.1" stroke="#777777" stroke-width="3.7"/>
<line x1="293.85" y1="112.1" x2="297.5" y2="117.4" stroke="#2146ea" stroke-width="3.7"/>
<line x1="290.2" y1="106.8" x2="276.3" y2="106.8" stroke="#777777" stroke-width="3.7"/>
<line x1="276.3" y1="106.8" x2="271" y2="105.4" stroke="#777777" stroke-width="3.7"/>
<line x1="276.3" y1="106.8" x2="268.4" y2="110.1" stroke="#777777" stroke-width="3.7"/>
<line x1="271" y1="105.4" x2="268.4" y2="110.1" stroke="#777777" stroke-width="3.7"/>
<line x1="271" y1="105.4" x2="256.5" y2="105.4" stroke="#777777" stroke-width="3.7"/>
<line x1="268.4" y1="110.1" x2="256.5" y2="105.4" stroke="#777777" stroke-width="3.7"/>
<line x1="268.4" y1="110.1" x2="253.2" y2="109.4" stroke="#777777" stroke-width="3.7"/>
<line x1="256.5" y1="105.4" x2="253.2" y2="109.4" stroke="#777777" stroke-width="3.7"/>
<line x1="256.5" y1="105.4" x2="247.2" y2="106.8" stroke="#777777" stroke-width="3.7"/>
<line x1="253.2" y1="109.4" x2="247.2" y2="106.8" stroke="#777777" stroke-width="3.7"/>
<line x1="292.9" y1="39.3" x2="290.1" y2="36.05" stroke="#777777" stroke-width="2.8"/>
<line x1="290.1" y1="36.05" x2="287.3" y2="32.8" stroke="#cdcdcd" stroke-width="2.8"/>
<line x1="305.1" y1="36.8" x2="306.7" y2="31.7" stroke="#777777" stroke-width="2.8"/>
<line x1="306.7" y1="31.7" x2="308.3" y2="26.6" stroke="#cdcdcd" stroke-width="2.8"/>
<line x1="310.7" y1="60.3" x2="313.55" y2="63.95" stroke="#777777" stroke-width="2.8"/>
<line x1="313.55" y1="63.95" x2="316.4" y2="67.6" stroke="#cdcdcd" stroke-width="2.8"/>
<line x1="279.2" y1="60.3" x2="275.55" y2="58.85" stroke="#2146ea" stroke-width="2.8"/>
<line x1="275.55" y1="58.85" x2="271.9" y2="57.4" stroke="#cdcdcd" stroke-width="2.8"/>
<line x1="280.8" y1="73.2" x2="277.55" y2="76.85" stroke="#777777" stroke-width="2.8"/>
<line x1="277.55" y1="76.85" x2="274.3" y2="80.5" stroke="#cdcdcd" stroke-width="2.8"/>
<line x1="293.2" y1="77" x2="294.5" y2="81.75" stroke="#2146ea" stroke-width="2.8"/>
<line x1="294.5" y1="81.75" x2="295.8" y2="86.5" stroke="#cdcdcd" stroke-width="2.8"/>
<line x1="326.5" y1="31.2" x2="322.05" y2="29" stroke="#777777" stroke-width="2.8"/>
<line x1="322.05" y1="29" x2="317.6" y2="26.8" stroke="#cdcdcd" stroke-width="2.8"/>
<line x1="338.8" y1="25.9" x2="338.8" y2="21.9" stroke="#777777" stroke-width="2.8"/>
<line x1="338.8" y1="21.9" x2="338.8" y2="17.9" stroke="#cdcdcd" stroke-width="2.8"/>
<line x1="338.8" y1="50.6" x2="338.8" y2="53.7" stroke="#777777" stroke-width="2.8"/>
<line x1="338.8" y1="53.7" x2="338.8" y2="56.8" stroke="#cdcdcd" stroke-width="2.8"/>
<line x1="364.4" y1="31.2" x2="366.15" y2="27.2" stroke="#2146ea" stroke-width="2.8"/>
<line x1="366.15" y1="27.2" x2="367.9" y2="23.2" stroke="#cdcdcd" stroke-width="2.8"/>
<line x1="385.6" y1="40.9" x2="387.35" y2="39.55" stroke="#777777" stroke-width="2.8"/>
<line x1="387.35" y1="39.55" x2="389.1" y2="38.2" stroke="#cdcdcd" stroke-width="2.8"/>
<line x1="416.5" y1="40.9" x2="416.05" y2="39.55" stroke="#777777" stroke-width="2.8"/>
<line x1="416.05" y1="39.55" x2="415.6" y2="38.2" stroke="#cdcdcd" stroke-width="2.8"/>
<line x1="416.5" y1="40.9" x2="420.9" y2="40.25" stroke="#777777" stroke-width="2.8"/>
<line x1="420.9" y1="40.25" x2="425.3" y2="39.6" stroke="#cdcdcd" stroke-width="2.8"/>
<line x1="372.9" y1="71.6" x2="370.95" y2="67" stroke="#2146ea" stroke-width="2.8"/>
<line x1="370.95" y1="67" x2="369" y2="62.4" stroke="#cdcdcd" stroke-width="2.8"/>
<line x1="386.2" y1="73" x2="388.85" y2="69.9" stroke="#777777" stroke-width="2.8"/>
<line x1="388.85" y1="69.9" x2="391.5" y2="66.8" stroke="#cdcdcd" stroke-width="2.8"/>
<line x1="386.8" y1="86.5" x2="390.75" y2="88.7" stroke="#2146ea" stroke-width="2.8"/>
<line x1="390.75" y1="88.7" x2="394.7" y2="90.9" stroke="#cdcdcd" stroke-width="2.8"/>
<line x1="352.3" y1="86.5" x2="349.25" y2="82.95" stroke="#777777" stroke-width="2.8"/>
<line x1="349.25" y1="82.95" x2="346.2" y2="79.4" stroke="#cdcdcd" stroke-width="2.8"/>
<line x1="357.6" y1="111.2" x2="356.3" y2="116.05" stroke="#777777" stroke-width="2.8"/>
<line x1="356.3" y1="116.05" x2="355" y2="120.9" stroke="#cdcdcd" stroke-width="2.8"/>
<line x1="371.8" y1="107.6" x2="374.85" y2="110.7" stroke="#777777" stroke-width="2.8"/>
<line x1="374.85" y1="110.7" x2="377.9" y2="113.8" stroke="#cdcdcd" stroke-width="2.8"/>
<line x1="324.1" y1="97.9" x2="325" y2="93.95" stroke="#777777" stroke-width="2.8"/>
<line x1="325" y1="93.95" x2="325.9" y2="90" stroke="#cdcdcd" stroke-width="2.8"/>
<line x1="335.6" y1="116.5" x2="339.1" y2="119.15" stroke="#777777" stroke-width="2.8"/>
<line x1="339.1" y1="119.15" x2="342.6" y2="121.8" stroke="#cdcdcd" stroke-width="2.8"/>
<line x1="321.5" y1="120.9" x2="321.5" y2="126.2" stroke="#777777" stroke-width="2.8"/>
<line x1="321.5" y1="126.2" x2="321.5" y2="131.5" stroke="#cdcdcd" stroke-width="2.8"/>
<line x1="297.5" y1="117.4" x2="296.15" y2="120" stroke="#2146ea" stroke-width="2.8"/>
<line x1="296.15" y1="120" x2="294.8" y2="122.6" stroke="#cdcdcd" stroke-width="2.8"/>
<line x1="268.4" y1="110.1" x2="269.7" y2="110.1" stroke="#777777" stroke-width="2.8"/>
<line x1="269.7" y1="110.1" x2="271" y2="110.1" stroke="#cdcdcd" stroke-width="2.8"/>
<line x1="247.2" y1="106.8" x2="246.55" y2="108.45" stroke="#777777" stroke-width="2.8"/>
<line x1="246.55" y1="108.45" x2="245.9" y2="110.1" stroke="#cdcdcd" stroke-width="2.8"/>
<line x1="247.2" y1="106.8" x2="242.25" y2="107.1" stroke="#777777" stroke-width="2.8"/>
<line x1="242.25" y1="107.1" x2="237.3" y2="107.4" stroke="#cdcdcd" stroke-width="2.8"/>
</g>
<circle cx="292.9" cy="39.3" r="3.75" fill="url(#gC)"/>
<circle cx="305.1" cy="36.8" r="3.75" fill="url(#gC)"/>
<circle cx="314.8" cy="47.4" r="3.75" fill="url(#gC)"/>
<circle cx="310.7" cy="60.3" r="3.75" fill="url(#gC)"/>
<circle cx="298.6" cy="63.5" r="3.75" fill="url(#gC)"/>
<circle cx="290.5" cy="53.8" r="3.75" fill="url(#gC)"/>
<circle cx="280.8" cy="73.2" r="3.75" fill="url(#gC)"/>
<circle cx="326.5" cy="42.6" r="3.75" fill="url(#gC)"/>
<circle cx="326.5" cy="31.2" r="3.75" fill="url(#gC)"/>
<circle cx="338.8" cy="25.9" r="3.75" fill="url(#gC)"/>
<circle cx="350.3" cy="32.9" r="3.75" fill="url(#gC)"/>
<circle cx="350.3" cy="44.4" r="3.75" fill="url(#gC)"/>
<circle cx="338.8" cy="50.6" r="3.75" fill="url(#gC)"/>
<circle cx="371.5" cy="40" r="3.75" fill="url(#gC)"/>
<circle cx="385.6" cy="40.9" r="3.75" fill="url(#gC)"/>
<circle cx="394.4" cy="40" r="3.75" fill="url(#gC)"/>
<circle cx="393" cy="42.5" r="3.75" fill="url(#gC)"/>
<circle cx="406.8" cy="39.1" r="3.75" fill="url(#gC)"/>
<circle cx="410.3" cy="40.9" r="3.75" fill="url(#gC)"/>
<circle cx="416.5" cy="40.9" r="3.75" fill="url(#gC)"/>
<circle cx="386.2" cy="73" r="3.75" fill="url(#gC)"/>
<circle cx="375.3" cy="94.4" r="3.75" fill="url(#gC)"/>
<circle cx="366.5" cy="83.8" r="3.75" fill="url(#gC)"/>
<circle cx="352.3" cy="86.5" r="3.75" fill="url(#gC)"/>
<circle cx="348.8" cy="101.5" r="3.75" fill="url(#gC)"/>
<circle cx="357.6" cy="111.2" r="3.75" fill="url(#gC)"/>
<circle cx="371.8" cy="107.6" r="3.75" fill="url(#gC)"/>
<circle cx="334.7" cy="105" r="3.75" fill="url(#gC)"/>
<circle cx="324.1" cy="97.9" r="3.75" fill="url(#gC)"/>
<circle cx="335.6" cy="116.5" r="3.75" fill="url(#gC)"/>
<circle cx="321.5" cy="120.9" r="3.75" fill="url(#gC)"/>
<circle cx="310.9" cy="114.7" r="3.75" fill="url(#gC)"/>
<circle cx="311.8" cy="103.2" r="3.75" fill="url(#gC)"/>
<circle cx="290.2" cy="106.8" r="3.75" fill="url(#gC)"/>
<circle cx="276.3" cy="106.8" r="3.75" fill="url(#gC)"/>
<circle cx="271" cy="105.4" r="3.75" fill="url(#gC)"/>
<circle cx="268.4" cy="110.1" r="3.75" fill="url(#gC)"/>
<circle cx="256.5" cy="105.4" r="3.75" fill="url(#gC)"/>
<circle cx="253.2" cy="109.4" r="3.75" fill="url(#gC)"/>
<circle cx="247.2" cy="106.8" r="3.75" fill="url(#gC)"/>
<circle cx="279.2" cy="60.3" r="3.8" fill="url(#gN)"/>
<circle cx="293.2" cy="77" r="3.8" fill="url(#gN)"/>
<circle cx="364.4" cy="31.2" r="3.8" fill="url(#gN)"/>
<circle cx="363.5" cy="47.9" r="3.8" fill="url(#gN)"/>
<circle cx="372.9" cy="71.6" r="3.8" fill="url(#gN)"/>
<circle cx="386.8" cy="86.5" r="3.8" fill="url(#gN)"/>
<circle cx="299.5" cy="98.2" r="3.8" fill="url(#gN)"/>
<circle cx="297.5" cy="117.4" r="3.8" fill="url(#gN)"/>
<circle cx="287.3" cy="32.8" r="2.8" fill="url(#gH)"/>
<circle cx="308.3" cy="26.6" r="2.8" fill="url(#gH)"/>
<circle cx="316.4" cy="67.6" r="2.8" fill="url(#gH)"/>
<circle cx="271.9" cy="57.4" r="2.8" fill="url(#gH)"/>
<circle cx="274.3" cy="80.5" r="2.8" fill="url(#gH)"/>
<circle cx="295.8" cy="86.5" r="2.8" fill="url(#gH)"/>
<circle cx="317.6" cy="26.8" r="2.8" fill="url(#gH)"/>
<circle cx="338.8" cy="17.9" r="2.8" fill="url(#gH)"/>
<circle cx="338.8" cy="56.8" r="2.8" fill="url(#gH)"/>
<circle cx="367.9" cy="23.2" r="2.8" fill="url(#gH)"/>
<circle cx="389.1" cy="38.2" r="2.8" fill="url(#gH)"/>
<circle cx="415.6" cy="38.2" r="2.8" fill="url(#gH)"/>
<circle cx="425.3" cy="39.6" r="2.8" fill="url(#gH)"/>
<circle cx="369" cy="62.4" r="2.8" fill="url(#gH)"/>
<circle cx="391.5" cy="66.8" r="2.8" fill="url(#gH)"/>
<circle cx="394.7" cy="90.9" r="2.8" fill="url(#gH)"/>
<circle cx="346.2" cy="79.4" r="2.8" fill="url(#gH)"/>
<circle cx="355" cy="120.9" r="2.8" fill="url(#gH)"/>
<circle cx="377.9" cy="113.8" r="2.8" fill="url(#gH)"/>
<circle cx="325.9" cy="90" r="2.8" fill="url(#gH)"/>
<circle cx="342.6" cy="121.8" r="2.8" fill="url(#gH)"/>
<circle cx="321.5" cy="131.5" r="2.8" fill="url(#gH)"/>
<circle cx="294.8" cy="122.6" r="2.8" fill="url(#gH)"/>
<circle cx="271" cy="110.1" r="2.8" fill="url(#gH)"/>
<circle cx="245.9" cy="110.1" r="2.8" fill="url(#gH)"/>
<circle cx="237.3" cy="107.4" r="2.8" fill="url(#gH)"/>
<g stroke-linecap="round">
<line x1="539.6" y1="31" x2="552.5" y2="27.8" stroke="#777777" stroke-width="3.7"/>
<line x1="539.6" y1="31" x2="534.7" y2="44.8" stroke="#777777" stroke-width="3.7"/>
<line x1="552.5" y1="27.8" x2="561.4" y2="39.1" stroke="#777777" stroke-width="3.7"/>
<line x1="561.4" y1="39.1" x2="557.4" y2="52.9" stroke="#777777" stroke-width="3.7"/>
<line x1="561.4" y1="39.1" x2="574.1" y2="35.9" stroke="#777777" stroke-width="3.7"/>
<line x1="557.4" y1="52.9" x2="542.8" y2="56.1" stroke="#777777" stroke-width="3.7"/>
<line x1="542.8" y1="56.1" x2="534.7" y2="44.8" stroke="#777777" stroke-width="3.7"/>
<line x1="542.8" y1="56.1" x2="539.55" y2="62.15" stroke="#777777" stroke-width="3.7"/>
<line x1="539.55" y1="62.15" x2="536.3" y2="68.2" stroke="#2146ea" stroke-width="3.7"/>
<line x1="534.7" y1="44.8" x2="529.05" y2="48" stroke="#777777" stroke-width="3.7"/>
<line x1="529.05" y1="48" x2="523.4" y2="51.2" stroke="#2146ea" stroke-width="3.7"/>
<line x1="523.4" y1="51.2" x2="523.8" y2="58.1" stroke="#2146ea" stroke-width="3.7"/>
<line x1="523.8" y1="58.1" x2="524.2" y2="65" stroke="#777777" stroke-width="3.7"/>
<line x1="524.2" y1="65" x2="530.25" y2="66.6" stroke="#777777" stroke-width="3.7"/>
<line x1="530.25" y1="66.6" x2="536.3" y2="68.2" stroke="#2146ea" stroke-width="3.7"/>
<line x1="574.1" y1="35.9" x2="575" y2="23.5" stroke="#777777" stroke-width="3.7"/>
<line x1="574.1" y1="35.9" x2="586.5" y2="42.9" stroke="#777777" stroke-width="3.7"/>
<line x1="575" y1="23.5" x2="587.4" y2="20" stroke="#777777" stroke-width="3.7"/>
<line x1="587.4" y1="20" x2="599.7" y2="27.1" stroke="#777777" stroke-width="3.7"/>
<line x1="599.7" y1="27.1" x2="599.7" y2="39.4" stroke="#777777" stroke-width="3.7"/>
<line x1="599.7" y1="27.1" x2="606.75" y2="26.65" stroke="#777777" stroke-width="3.7"/>
<line x1="606.75" y1="26.65" x2="613.8" y2="26.2" stroke="#2146ea" stroke-width="3.7"/>
<line x1="599.7" y1="39.4" x2="586.5" y2="42.9" stroke="#777777" stroke-width="3.7"/>
<line x1="599.7" y1="39.4" x2="606.3" y2="42.5" stroke="#777777" stroke-width="3.7"/>
<line x1="606.3" y1="42.5" x2="612.9" y2="45.6" stroke="#2146ea" stroke-width="3.7"/>
<line x1="613.8" y1="26.2" x2="617.35" y2="31.5" stroke="#2146ea" stroke-width="3.7"/>
<line x1="617.35" y1="31.5" x2="620.9" y2="36.8" stroke="#777777" stroke-width="3.7"/>
<line x1="620.9" y1="36.8" x2="616.9" y2="41.2" stroke="#777777" stroke-width="3.7"/>
<line x1="616.9" y1="41.2" x2="612.9" y2="45.6" stroke="#2146ea" stroke-width="3.7"/>
<line x1="620.9" y1="36.8" x2="636.8" y2="37.6" stroke="#777777" stroke-width="3.7"/>
<line x1="636.8" y1="37.6" x2="643.8" y2="36.8" stroke="#777777" stroke-width="3.7"/>
<line x1="636.8" y1="37.6" x2="643" y2="39.4" stroke="#777777" stroke-width="3.7"/>
<line x1="643.8" y1="36.8" x2="643" y2="39.4" stroke="#777777" stroke-width="3.7"/>
<line x1="643.8" y1="36.8" x2="656.2" y2="37.6" stroke="#777777" stroke-width="3.7"/>
<line x1="643.8" y1="36.8" x2="657" y2="39.4" stroke="#777777" stroke-width="3.7"/>
<line x1="643" y1="39.4" x2="656.2" y2="37.6" stroke="#777777" stroke-width="3.7"/>
<line x1="643" y1="39.4" x2="657" y2="39.4" stroke="#777777" stroke-width="3.7"/>
<line x1="656.2" y1="37.6" x2="657" y2="39.4" stroke="#777777" stroke-width="3.7"/>
<line x1="656.2" y1="37.6" x2="664.1" y2="38.5" stroke="#777777" stroke-width="3.7"/>
<line x1="657" y1="39.4" x2="664.1" y2="38.5" stroke="#777777" stroke-width="3.7"/>
<line x1="618.8" y1="68.8" x2="625" y2="70.15" stroke="#2146ea" stroke-width="3.7"/>
<line x1="625" y1="70.15" x2="631.2" y2="71.5" stroke="#777777" stroke-width="3.7"/>
<line x1="618.8" y1="68.8" x2="615.6" y2="75.15" stroke="#2146ea" stroke-width="3.7"/>
<line x1="615.6" y1="75.15" x2="612.4" y2="81.5" stroke="#777777" stroke-width="3.7"/>
<line x1="631.2" y1="71.5" x2="631.9" y2="78.7" stroke="#777777" stroke-width="3.7"/>
<line x1="631.9" y1="78.7" x2="632.6" y2="85.9" stroke="#2146ea" stroke-width="3.7"/>
<line x1="632.6" y1="85.9" x2="626.45" y2="89" stroke="#2146ea" stroke-width="3.7"/>
<line x1="626.45" y1="89" x2="620.3" y2="92.1" stroke="#777777" stroke-width="3.7"/>
<line x1="620.3" y1="92.1" x2="612.4" y2="81.5" stroke="#777777" stroke-width="3.7"/>
<line x1="620.3" y1="92.1" x2="616.8" y2="106.2" stroke="#777777" stroke-width="3.7"/>
<line x1="612.4" y1="81.5" x2="598.2" y2="85" stroke="#777777" stroke-width="3.7"/>
<line x1="598.2" y1="85" x2="594.7" y2="99.1" stroke="#777777" stroke-width="3.7"/>
<line x1="594.7" y1="99.1" x2="602.6" y2="109.7" stroke="#777777" stroke-width="3.7"/>
<line x1="594.7" y1="99.1" x2="580.6" y2="101.8" stroke="#777777" stroke-width="3.7"/>
<line x1="602.6" y1="109.7" x2="616.8" y2="106.2" stroke="#777777" stroke-width="3.7"/>
<line x1="580.6" y1="101.8" x2="569.1" y2="94.7" stroke="#777777" stroke-width="3.7"/>
<line x1="580.6" y1="101.8" x2="578.8" y2="115" stroke="#777777" stroke-width="3.7"/>
<line x1="569.1" y1="94.7" x2="555.9" y2="98.2" stroke="#777777" stroke-width="3.7"/>
<line x1="578.8" y1="115" x2="565.6" y2="118.5" stroke="#777777" stroke-width="3.7"/>
<line x1="565.6" y1="118.5" x2="554.1" y2="111.5" stroke="#777777" stroke-width="3.7"/>
<line x1="554.1" y1="111.5" x2="555.9" y2="98.2" stroke="#777777" stroke-width="3.7"/>
<line x1="554.1" y1="111.5" x2="547.65" y2="112.2" stroke="#777777" stroke-width="3.7"/>
<line x1="547.65" y1="112.2" x2="541.2" y2="112.9" stroke="#2146ea" stroke-width="3.7"/>
<line x1="555.9" y1="98.2" x2="548.95" y2="95.5" stroke="#777777" stroke-width="3.7"/>
<line x1="548.95" y1="95.5" x2="542" y2="92.8" stroke="#2146ea" stroke-width="3.7"/>
<line x1="542" y1="92.8" x2="537.6" y2="97.6" stroke="#2146ea" stroke-width="3.7"/>
<line x1="537.6" y1="97.6" x2="533.2" y2="102.4" stroke="#777777" stroke-width="3.7"/>
<line x1="541.2" y1="112.9" x2="537.2" y2="107.65" stroke="#2146ea" stroke-width="3.7"/>
<line x1="537.2" y1="107.65" x2="533.2" y2="102.4" stroke="#777777" stroke-width="3.7"/>
<line x1="533.2" y1="102.4" x2="520" y2="100.9" stroke="#777777" stroke-width="3.7"/>
<line x1="520" y1="100.9" x2="512.6" y2="98.7" stroke="#777777" stroke-width="3.7"/>
<line x1="520" y1="100.9" x2="509" y2="103.1" stroke="#777777" stroke-width="3.7"/>
<line x1="512.6" y1="98.7" x2="509" y2="103.1" stroke="#777777" stroke-width="3.7"/>
<line x1="512.6" y1="98.7" x2="497.9" y2="97.9" stroke="#777777" stroke-width="3.7"/>
<line x1="509" y1="103.1" x2="497.9" y2="97.9" stroke="#777777" stroke-width="3.7"/>
<line x1="509" y1="103.1" x2="494.3" y2="102.4" stroke="#777777" stroke-width="3.7"/>
<line x1="497.9" y1="97.9" x2="494.3" y2="102.4" stroke="#777777" stroke-width="3.7"/>
<line x1="497.9" y1="97.9" x2="487.6" y2="99.4" stroke="#777777" stroke-width="3.7"/>
<line x1="494.3" y1="102.4" x2="487.6" y2="99.4" stroke="#777777" stroke-width="3.7"/>
<line x1="539.6" y1="31" x2="536.35" y2="27.35" stroke="#777777" stroke-width="2.8"/>
<line x1="536.35" y1="27.35" x2="533.1" y2="23.7" stroke="#cdcdcd" stroke-width="2.8"/>
<line x1="552.5" y1="27.8" x2="554.1" y2="22.95" stroke="#777777" stroke-width="2.8"/>
<line x1="554.1" y1="22.95" x2="555.7" y2="18.1" stroke="#cdcdcd" stroke-width="2.8"/>
<line x1="557.4" y1="52.9" x2="559.8" y2="57.35" stroke="#777777" stroke-width="2.8"/>
<line x1="559.8" y1="57.35" x2="562.2" y2="61.8" stroke="#cdcdcd" stroke-width="2.8"/>
<line x1="523.4" y1="51.2" x2="519.35" y2="48.8" stroke="#2146ea" stroke-width="2.8"/>
<line x1="519.35" y1="48.8" x2="515.3" y2="46.4" stroke="#cdcdcd" stroke-width="2.8"/>
<line x1="524.2" y1="65" x2="520.55" y2="68.65" stroke="#777777" stroke-width="2.8"/>
<line x1="520.55" y1="68.65" x2="516.9" y2="72.3" stroke="#cdcdcd" stroke-width="2.8"/>
<line x1="575" y1="23.5" x2="570.6" y2="20.85" stroke="#777777" stroke-width="2.8"/>
<line x1="570.6" y1="20.85" x2="566.2" y2="18.2" stroke="#cdcdcd" stroke-width="2.8"/>
<line x1="587.4" y1="20" x2="587.8" y2="16.05" stroke="#777777" stroke-width="2.8"/>
<line x1="587.8" y1="16.05" x2="588.2" y2="12.1" stroke="#cdcdcd" stroke-width="2.8"/>
<line x1="586.5" y1="42.9" x2="586.05" y2="47.35" stroke="#777777" stroke-width="2.8"/>
<line x1="586.05" y1="47.35" x2="585.6" y2="51.8" stroke="#cdcdcd" stroke-width="2.8"/>
<line x1="613.8" y1="26.2" x2="616.45" y2="22.2" stroke="#2146ea" stroke-width="2.8"/>
<line x1="616.45" y1="22.2" x2="619.1" y2="18.2" stroke="#cdcdcd" stroke-width="2.8"/>
<line x1="612.9" y1="45.6" x2="613.8" y2="49.1" stroke="#2146ea" stroke-width="2.8"/>
<line x1="613.8" y1="49.1" x2="614.7" y2="52.6" stroke="#cdcdcd" stroke-width="2.8"/>
<line x1="636.8" y1="37.6" x2="638.1" y2="36.3" stroke="#777777" stroke-width="2.8"/>
<line x1="638.1" y1="36.3" x2="639.4" y2="35" stroke="#cdcdcd" stroke-width="2.8"/>
<line x1="664.1" y1="38.5" x2="665" y2="37.65" stroke="#777777" stroke-width="2.8"/>
<line x1="665" y1="37.65" x2="665.9" y2="36.8" stroke="#cdcdcd" stroke-width="2.8"/>
<line x1="664.1" y1="38.5" x2="670.3" y2="38.5" stroke="#777777" stroke-width="2.8"/>
<line x1="670.3" y1="38.5" x2="676.5" y2="38.5" stroke="#cdcdcd" stroke-width="2.8"/>
<line x1="631.2" y1="71.5" x2="635.35" y2="68.4" stroke="#777777" stroke-width="2.8"/>
<line x1="635.35" y1="68.4" x2="639.5" y2="65.3" stroke="#cdcdcd" stroke-width="2.8"/>
<line x1="632.6" y1="85.9" x2="636.6" y2="88.1" stroke="#2146ea" stroke-width="2.8"/>
<line x1="636.6" y1="88.1" x2="640.6" y2="90.3" stroke="#cdcdcd" stroke-width="2.8"/>
<line x1="598.2" y1="85" x2="595.15" y2="81.05" stroke="#777777" stroke-width="2.8"/>
<line x1="595.15" y1="81.05" x2="592.1" y2="77.1" stroke="#cdcdcd" stroke-width="2.8"/>
<line x1="602.6" y1="109.7" x2="601.3" y2="114.55" stroke="#777777" stroke-width="2.8"/>
<line x1="601.3" y1="114.55" x2="600" y2="119.4" stroke="#cdcdcd" stroke-width="2.8"/>
<line x1="616.8" y1="106.2" x2="619.45" y2="109.7" stroke="#777777" stroke-width="2.8"/>
<line x1="619.45" y1="109.7" x2="622.1" y2="113.2" stroke="#cdcdcd" stroke-width="2.8"/>
<line x1="569.1" y1="94.7" x2="569.55" y2="90.3" stroke="#777777" stroke-width="2.8"/>
<line x1="569.55" y1="90.3" x2="570" y2="85.9" stroke="#cdcdcd" stroke-width="2.8"/>
<line x1="578.8" y1="115" x2="583.2" y2="117.65" stroke="#777777" stroke-width="2.8"/>
<line x1="583.2" y1="117.65" x2="587.6" y2="120.3" stroke="#cdcdcd" stroke-width="2.8"/>
<line x1="565.6" y1="118.5" x2="565.15" y2="122.95" stroke="#777777" stroke-width="2.8"/>
<line x1="565.15" y1="122.95" x2="564.7" y2="127.4" stroke="#cdcdcd" stroke-width="2.8"/>
<line x1="542" y1="92.8" x2="540.95" y2="88.4" stroke="#2146ea" stroke-width="2.8"/>
<line x1="540.95" y1="88.4" x2="539.9" y2="84" stroke="#cdcdcd" stroke-width="2.8"/>
<line x1="541.2" y1="112.9" x2="537.95" y2="116.8" stroke="#2146ea" stroke-width="2.8"/>
<line x1="537.95" y1="116.8" x2="534.7" y2="120.7" stroke="#cdcdcd" stroke-width="2.8"/>
<line x1="509" y1="103.1" x2="511.2" y2="103.45" stroke="#777777" stroke-width="2.8"/>
<line x1="511.2" y1="103.45" x2="513.4" y2="103.8" stroke="#cdcdcd" stroke-width="2.8"/>
<line x1="487.6" y1="99.4" x2="487.6" y2="101.25" stroke="#777777" stroke-width="2.8"/>
<line x1="487.6" y1="101.25" x2="487.6" y2="103.1" stroke="#cdcdcd" stroke-width="2.8"/>
<line x1="487.6" y1="99.4" x2="482.85" y2="99.4" stroke="#777777" stroke-width="2.8"/>
<line x1="482.85" y1="99.4" x2="478.1" y2="99.4" stroke="#cdcdcd" stroke-width="2.8"/>
</g>
<circle cx="539.6" cy="31" r="3.75" fill="url(#gC)"/>
<circle cx="552.5" cy="27.8" r="3.75" fill="url(#gC)"/>
<circle cx="561.4" cy="39.1" r="3.75" fill="url(#gC)"/>
<circle cx="557.4" cy="52.9" r="3.75" fill="url(#gC)"/>
<circle cx="542.8" cy="56.1" r="3.75" fill="url(#gC)"/>
<circle cx="534.7" cy="44.8" r="3.75" fill="url(#gC)"/>
<circle cx="524.2" cy="65" r="3.75" fill="url(#gC)"/>
<circle cx="574.1" cy="35.9" r="3.75" fill="url(#gC)"/>
<circle cx="575" cy="23.5" r="3.75" fill="url(#gC)"/>
<circle cx="587.4" cy="20" r="3.75" fill="url(#gC)"/>
<circle cx="599.7" cy="27.1" r="3.75" fill="url(#gC)"/>
<circle cx="599.7" cy="39.4" r="3.75" fill="url(#gC)"/>
<circle cx="586.5" cy="42.9" r="3.75" fill="url(#gC)"/>
<circle cx="620.9" cy="36.8" r="3.75" fill="url(#gC)"/>
<circle cx="636.8" cy="37.6" r="3.75" fill="url(#gC)"/>
<circle cx="643.8" cy="36.8" r="3.75" fill="url(#gC)"/>
<circle cx="643" cy="39.4" r="3.75" fill="url(#gC)"/>
<circle cx="656.2" cy="37.6" r="3.75" fill="url(#gC)"/>
<circle cx="657" cy="39.4" r="3.75" fill="url(#gC)"/>
<circle cx="664.1" cy="38.5" r="3.75" fill="url(#gC)"/>
<circle cx="631.2" cy="71.5" r="3.75" fill="url(#gC)"/>
<circle cx="620.3" cy="92.1" r="3.75" fill="url(#gC)"/>
<circle cx="612.4" cy="81.5" r="3.75" fill="url(#gC)"/>
<circle cx="598.2" cy="85" r="3.75" fill="url(#gC)"/>
<circle cx="594.7" cy="99.1" r="3.75" fill="url(#gC)"/>
<circle cx="602.6" cy="109.7" r="3.75" fill="url(#gC)"/>
<circle cx="616.8" cy="106.2" r="3.75" fill="url(#gC)"/>
<circle cx="580.6" cy="101.8" r="3.75" fill="url(#gC)"/>
<circle cx="569.1" cy="94.7" r="3.75" fill="url(#gC)"/>
<circle cx="578.8" cy="115" r="3.75" fill="url(#gC)"/>
<circle cx="565.6" cy="118.5" r="3.75" fill="url(#gC)"/>
<circle cx="554.1" cy="111.5" r="3.75" fill="url(#gC)"/>
<circle cx="555.9" cy="98.2" r="3.75" fill="url(#gC)"/>
<circle cx="533.2" cy="102.4" r="3.75" fill="url(#gC)"/>
<circle cx="520" cy="100.9" r="3.75" fill="url(#gC)"/>
<circle cx="512.6" cy="98.7" r="3.75" fill="url(#gC)"/>
<circle cx="509" cy="103.1" r="3.75" fill="url(#gC)"/>
<circle cx="497.9" cy="97.9" r="3.75" fill="url(#gC)"/>
<circle cx="494.3" cy="102.4" r="3.75" fill="url(#gC)"/>
<circle cx="487.6" cy="99.4" r="3.75" fill="url(#gC)"/>
<circle cx="523.4" cy="51.2" r="3.8" fill="url(#gN)"/>
<circle cx="536.3" cy="68.2" r="3.8" fill="url(#gN)"/>
<circle cx="613.8" cy="26.2" r="3.8" fill="url(#gN)"/>
<circle cx="612.9" cy="45.6" r="3.8" fill="url(#gN)"/>
<circle cx="618.8" cy="68.8" r="3.8" fill="url(#gN)"/>
<circle cx="632.6" cy="85.9" r="3.8" fill="url(#gN)"/>
<circle cx="542" cy="92.8" r="3.8" fill="url(#gN)"/>
<circle cx="541.2" cy="112.9" r="3.8" fill="url(#gN)"/>
<circle cx="533.1" cy="23.7" r="2.8" fill="url(#gH)"/>
<circle cx="555.7" cy="18.1" r="2.8" fill="url(#gH)"/>
<circle cx="562.2" cy="61.8" r="2.8" fill="url(#gH)"/>
<circle cx="515.3" cy="46.4" r="2.8" fill="url(#gH)"/>
<circle cx="516.9" cy="72.3" r="2.8" fill="url(#gH)"/>
<circle cx="566.2" cy="18.2" r="2.8" fill="url(#gH)"/>
<circle cx="588.2" cy="12.1" r="2.8" fill="url(#gH)"/>
<circle cx="585.6" cy="51.8" r="2.8" fill="url(#gH)"/>
<circle cx="619.1" cy="18.2" r="2.8" fill="url(#gH)"/>
<circle cx="614.7" cy="52.6" r="2.8" fill="url(#gH)"/>
<circle cx="639.4" cy="35" r="2.8" fill="url(#gH)"/>
<circle cx="665.9" cy="36.8" r="2.8" fill="url(#gH)"/>
<circle cx="676.5" cy="38.5" r="2.8" fill="url(#gH)"/>
<circle cx="639.5" cy="65.3" r="2.8" fill="url(#gH)"/>
<circle cx="640.6" cy="90.3" r="2.8" fill="url(#gH)"/>
<circle cx="592.1" cy="77.1" r="2.8" fill="url(#gH)"/>
<circle cx="600" cy="119.4" r="2.8" fill="url(#gH)"/>
<circle cx="622.1" cy="113.2" r="2.8" fill="url(#gH)"/>
<circle cx="570" cy="85.9" r="2.8" fill="url(#gH)"/>
<circle cx="587.6" cy="120.3" r="2.8" fill="url(#gH)"/>
<circle cx="564.7" cy="127.4" r="2.8" fill="url(#gH)"/>
<circle cx="539.9" cy="84" r="2.8" fill="url(#gH)"/>
<circle cx="534.7" cy="120.7" r="2.8" fill="url(#gH)"/>
<circle cx="513.4" cy="103.8" r="2.8" fill="url(#gH)"/>
<circle cx="487.6" cy="103.1" r="2.8" fill="url(#gH)"/>
<circle cx="478.1" cy="99.4" r="2.8" fill="url(#gH)"/>
<g stroke-linecap="round">
<line x1="60.7" y1="547.6" x2="72.8" y2="544.4" stroke="#777777" stroke-width="3.7"/>
<line x1="60.7" y1="547.6" x2="56.6" y2="560.6" stroke="#777777" stroke-width="3.7"/>
<line x1="72.8" y1="544.4" x2="82.5" y2="555.7" stroke="#777777" stroke-width="3.7"/>
<line x1="82.5" y1="555.7" x2="77.6" y2="567.9" stroke="#777777" stroke-width="3.7"/>
<line x1="82.5" y1="555.7" x2="94.1" y2="552.6" stroke="#777777" stroke-width="3.7"/>
<line x1="77.6" y1="567.9" x2="63.9" y2="571.9" stroke="#777777" stroke-width="3.7"/>
<line x1="63.9" y1="571.9" x2="56.6" y2="560.6" stroke="#777777" stroke-width="3.7"/>
<line x1="63.9" y1="571.9" x2="61.05" y2="577.55" stroke="#777777" stroke-width="3.7"/>
<line x1="61.05" y1="577.55" x2="58.2" y2="583.2" stroke="#2146ea" stroke-width="3.7"/>
<line x1="56.6" y1="560.6" x2="50.95" y2="563.85" stroke="#777777" stroke-width="3.7"/>
<line x1="50.95" y1="563.85" x2="45.3" y2="567.1" stroke="#2146ea" stroke-width="3.7"/>
<line x1="45.3" y1="567.1" x2="45.7" y2="573.95" stroke="#2146ea" stroke-width="3.7"/>
<line x1="45.7" y1="573.95" x2="46.1" y2="580.8" stroke="#777777" stroke-width="3.7"/>
<line x1="46.1" y1="580.8" x2="52.15" y2="582" stroke="#777777" stroke-width="3.7"/>
<line x1="52.15" y1="582" x2="58.2" y2="583.2" stroke="#2146ea" stroke-width="3.7"/>
<line x1="94.1" y1="552.6" x2="95" y2="540.3" stroke="#777777" stroke-width="3.7"/>
<line x1="94.1" y1="552.6" x2="105.6" y2="558.8" stroke="#777777" stroke-width="3.7"/>
<line x1="95" y1="540.3" x2="107.4" y2="536.8" stroke="#777777" stroke-width="3.7"/>
<line x1="107.4" y1="536.8" x2="118.8" y2="543.8" stroke="#777777" stroke-width="3.7"/>
<line x1="118.8" y1="543.8" x2="117.9" y2="555.3" stroke="#777777" stroke-width="3.7"/>
<line x1="118.8" y1="543.8" x2="125.45" y2="542.95" stroke="#777777" stroke-width="3.7"/>
<line x1="125.45" y1="542.95" x2="132.1" y2="542.1" stroke="#2146ea" stroke-width="3.7"/>
<line x1="117.9" y1="555.3" x2="105.6" y2="558.8" stroke="#777777" stroke-width="3.7"/>
<line x1="117.9" y1="555.3" x2="124.1" y2="557.5" stroke="#777777" stroke-width="3.7"/>
<line x1="124.1" y1="557.5" x2="130.3" y2="559.7" stroke="#2146ea" stroke-width="3.7"/>
<line x1="132.1" y1="542.1" x2="135.6" y2="546.95" stroke="#2146ea" stroke-width="3.7"/>
<line x1="135.6" y1="546.95" x2="139.1" y2="551.8" stroke="#777777" stroke-width="3.7"/>
<line x1="139.1" y1="551.8" x2="134.7" y2="555.75" stroke="#777777" stroke-width="3.7"/>
<line x1="134.7" y1="555.75" x2="130.3" y2="559.7" stroke="#2146ea" stroke-width="3.7"/>
<line x1="139.1" y1="551.8" x2="152.3" y2="552.6" stroke="#777777" stroke-width="3.7"/>
<line x1="152.3" y1="552.6" x2="159.4" y2="551.8" stroke="#777777" stroke-width="3.7"/>
<line x1="152.3" y1="552.6" x2="160.3" y2="555.3" stroke="#777777" stroke-width="3.7"/>
<line x1="159.4" y1="551.8" x2="160.3" y2="555.3" stroke="#777777" stroke-width="3.7"/>
<line x1="159.4" y1="551.8" x2="172.6" y2="551.8" stroke="#777777" stroke-width="3.7"/>
<line x1="159.4" y1="551.8" x2="173.5" y2="555.3" stroke="#777777" stroke-width="3.7"/>
<line x1="160.3" y1="555.3" x2="172.6" y2="551.8" stroke="#777777" stroke-width="3.7"/>
<line x1="160.3" y1="555.3" x2="173.5" y2="555.3" stroke="#777777" stroke-width="3.7"/>
<line x1="172.6" y1="551.8" x2="173.5" y2="555.3" stroke="#777777" stroke-width="3.7"/>
<line x1="172.6" y1="551.8" x2="181.5" y2="554.4" stroke="#777777" stroke-width="3.7"/>
<line x1="173.5" y1="555.3" x2="181.5" y2="554.4" stroke="#777777" stroke-width="3.7"/>
<line x1="136.3" y1="583.8" x2="142.9" y2="585.15" stroke="#2146ea" stroke-width="3.7"/>
<line x1="142.9" y1="585.15" x2="149.5" y2="586.5" stroke="#777777" stroke-width="3.7"/>
<line x1="136.3" y1="583.8" x2="133.15" y2="589.25" stroke="#2146ea" stroke-width="3.7"/>
<line x1="133.15" y1="589.25" x2="130" y2="594.7" stroke="#777777" stroke-width="3.7"/>
<line x1="149.5" y1="586.5" x2="149" y2="593.25" stroke="#777777" stroke-width="3.7"/>
<line x1="149" y1="593.25" x2="148.5" y2="600" stroke="#2146ea" stroke-width="3.7"/>
<line x1="148.5" y1="600" x2="143.2" y2="602.65" stroke="#2146ea" stroke-width="3.7"/>
<line x1="143.2" y1="602.65" x2="137.9" y2="605.3" stroke="#777777" stroke-width="3.7"/>
<line x1="137.9" y1="605.3" x2="130" y2="594.7" stroke="#777777" stroke-width="3.7"/>
<line x1="137.9" y1="605.3" x2="134.4" y2="618.5" stroke="#777777" stroke-width="3.7"/>
<line x1="130" y1="594.7" x2="116.8" y2="597.4" stroke="#777777" stroke-width="3.7"/>
<line x1="116.8" y1="597.4" x2="113.2" y2="611.5" stroke="#777777" stroke-width="3.7"/>
<line x1="113.2" y1="611.5" x2="121.2" y2="621.2" stroke="#777777" stroke-width="3.7"/>
<line x1="113.2" y1="611.5" x2="100" y2="615" stroke="#777777" stroke-width="3.7"/>
<line x1="121.2" y1="621.2" x2="134.4" y2="618.5" stroke="#777777" stroke-width="3.7"/>
<line x1="100" y1="615" x2="89.4" y2="607.9" stroke="#777777" stroke-width="3.7"/>
<line x1="100" y1="615" x2="98.2" y2="626.5" stroke="#777777" stroke-width="3.7"/>
<line x1="89.4" y1="607.9" x2="76.2" y2="611.5" stroke="#777777" stroke-width="3.7"/>
<line x1="98.2" y1="626.5" x2="85.9" y2="630" stroke="#777777" stroke-width="3.7"/>
<line x1="85.9" y1="630" x2="75.3" y2="622.9" stroke="#777777" stroke-width="3.7"/>
<line x1="75.3" y1="622.9" x2="76.2" y2="611.5" stroke="#777777" stroke-width="3.7"/>
<line x1="75.3" y1="622.9" x2="68.1" y2="623.45" stroke="#777777" stroke-width="3.7"/>
<line x1="68.1" y1="623.45" x2="60.9" y2="624" stroke="#2146ea" stroke-width="3.7"/>
<line x1="76.2" y1="611.5" x2="69.85" y2="609.15" stroke="#777777" stroke-width="3.7"/>
<line x1="69.85" y1="609.15" x2="63.5" y2="606.8" stroke="#2146ea" stroke-width="3.7"/>
<line x1="63.5" y1="606.8" x2="59.2" y2="610.8" stroke="#2146ea" stroke-width="3.7"/>
<line x1="59.2" y1="610.8" x2="54.9" y2="614.8" stroke="#777777" stroke-width="3.7"/>
<line x1="54.9" y1="614.8" x2="57.9" y2="619.4" stroke="#777777" stroke-width="3.7"/>
<line x1="57.9" y1="619.4" x2="60.9" y2="624" stroke="#2146ea" stroke-width="3.7"/>
<line x1="54.9" y1="614.8" x2="42.4" y2="614.1" stroke="#777777" stroke-width="3.7"/>
<line x1="42.4" y1="614.1" x2="35.7" y2="611.5" stroke="#777777" stroke-width="3.7"/>
<line x1="42.4" y1="614.1" x2="33.1" y2="616.1" stroke="#777777" stroke-width="3.7"/>
<line x1="35.7" y1="611.5" x2="33.1" y2="616.1" stroke="#777777" stroke-width="3.7"/>
<line x1="35.7" y1="611.5" x2="21.2" y2="610.8" stroke="#777777" stroke-width="3.7"/>
<line x1="33.1" y1="616.1" x2="21.2" y2="610.8" stroke="#777777" stroke-width="3.7"/>
<line x1="33.1" y1="616.1" x2="18.5" y2="614.8" stroke="#777777" stroke-width="3.7"/>
<line x1="21.2" y1="610.8" x2="18.5" y2="614.8" stroke="#777777" stroke-width="3.7"/>
<line x1="21.2" y1="610.8" x2="13.2" y2="611.5" stroke="#777777" stroke-width="3.7"/>
<line x1="18.5" y1="614.8" x2="13.2" y2="611.5" stroke="#777777" stroke-width="3.7"/>
<line x1="60.7" y1="547.6" x2="58.25" y2="544.4" stroke="#777777" stroke-width="2.8"/>
<line x1="58.25" y1="544.4" x2="55.8" y2="541.2" stroke="#cdcdcd" stroke-width="2.8"/>
<line x1="72.8" y1="544.4" x2="74.4" y2="539.95" stroke="#777777" stroke-width="2.8"/>
<line x1="74.4" y1="539.95" x2="76" y2="535.5" stroke="#cdcdcd" stroke-width="2.8"/>
<line x1="77.6" y1="567.9" x2="79.8" y2="572.2" stroke="#777777" stroke-width="2.8"/>
<line x1="79.8" y1="572.2" x2="82" y2="576.5" stroke="#cdcdcd" stroke-width="2.8"/>
<line x1="45.3" y1="567.1" x2="41.65" y2="565.05" stroke="#2146ea" stroke-width="2.8"/>
<line x1="41.65" y1="565.05" x2="38" y2="563" stroke="#cdcdcd" stroke-width="2.8"/>
<line x1="46.1" y1="580.8" x2="42.85" y2="583.65" stroke="#777777" stroke-width="2.8"/>
<line x1="42.85" y1="583.65" x2="39.6" y2="586.5" stroke="#cdcdcd" stroke-width="2.8"/>
<line x1="58.2" y1="583.2" x2="59.2" y2="587.6" stroke="#2146ea" stroke-width="2.8"/>
<line x1="59.2" y1="587.6" x2="60.2" y2="592" stroke="#cdcdcd" stroke-width="2.8"/>
<line x1="95" y1="540.3" x2="90.6" y2="538.55" stroke="#777777" stroke-width="2.8"/>
<line x1="90.6" y1="538.55" x2="86.2" y2="536.8" stroke="#cdcdcd" stroke-width="2.8"/>
<line x1="107.4" y1="536.8" x2="107.4" y2="532.35" stroke="#777777" stroke-width="2.8"/>
<line x1="107.4" y1="532.35" x2="107.4" y2="527.9" stroke="#cdcdcd" stroke-width="2.8"/>
<line x1="105.6" y1="558.8" x2="105.15" y2="562.8" stroke="#777777" stroke-width="2.8"/>
<line x1="105.15" y1="562.8" x2="104.7" y2="566.8" stroke="#cdcdcd" stroke-width="2.8"/>
<line x1="132.1" y1="542.1" x2="134.3" y2="538.55" stroke="#2146ea" stroke-width="2.8"/>
<line x1="134.3" y1="538.55" x2="136.5" y2="535" stroke="#cdcdcd" stroke-width="2.8"/>
<line x1="159.4" y1="551.8" x2="157.65" y2="551.35" stroke="#777777" stroke-width="2.8"/>
<line x1="157.65" y1="551.35" x2="155.9" y2="550.9" stroke="#cdcdcd" stroke-width="2.8"/>
<line x1="181.5" y1="554.4" x2="181.05" y2="553.1" stroke="#777777" stroke-width="2.8"/>
<line x1="181.05" y1="553.1" x2="180.6" y2="551.8" stroke="#cdcdcd" stroke-width="2.8"/>
<line x1="181.5" y1="554.4" x2="186.35" y2="554.4" stroke="#777777" stroke-width="2.8"/>
<line x1="186.35" y1="554.4" x2="191.2" y2="554.4" stroke="#cdcdcd" stroke-width="2.8"/>
<line x1="136.3" y1="583.8" x2="134.75" y2="578.7" stroke="#2146ea" stroke-width="2.8"/>
<line x1="134.75" y1="578.7" x2="133.2" y2="573.6" stroke="#cdcdcd" stroke-width="2.8"/>
<line x1="149.5" y1="586.5" x2="152.6" y2="582.75" stroke="#777777" stroke-width="2.8"/>
<line x1="152.6" y1="582.75" x2="155.7" y2="579" stroke="#cdcdcd" stroke-width="2.8"/>
<line x1="148.5" y1="600" x2="152.5" y2="601.3" stroke="#2146ea" stroke-width="2.8"/>
<line x1="152.5" y1="601.3" x2="156.5" y2="602.6" stroke="#cdcdcd" stroke-width="2.8"/>
<line x1="116.8" y1="597.4" x2="114" y2="593.95" stroke="#777777" stroke-width="2.8"/>
<line x1="114" y1="593.95" x2="111.2" y2="590.5" stroke="#cdcdcd" stroke-width="2.8"/>
<line x1="121.2" y1="621.2" x2="119.4" y2="626.05" stroke="#777777" stroke-width="2.8"/>
<line x1="119.4" y1="626.05" x2="117.6" y2="630.9" stroke="#cdcdcd" stroke-width="2.8"/>
<line x1="134.4" y1="618.5" x2="137.05" y2="622.05" stroke="#777777" stroke-width="2.8"/>
<line x1="137.05" y1="622.05" x2="139.7" y2="625.6" stroke="#cdcdcd" stroke-width="2.8"/>
<line x1="89.4" y1="607.9" x2="89.85" y2="603.5" stroke="#777777" stroke-width="2.8"/>
<line x1="89.85" y1="603.5" x2="90.3" y2="599.1" stroke="#cdcdcd" stroke-width="2.8"/>
<line x1="98.2" y1="626.5" x2="102.2" y2="629.15" stroke="#777777" stroke-width="2.8"/>
<line x1="102.2" y1="629.15" x2="106.2" y2="631.8" stroke="#cdcdcd" stroke-width="2.8"/>
<line x1="85.9" y1="630" x2="85" y2="634.4" stroke="#777777" stroke-width="2.8"/>
<line x1="85" y1="634.4" x2="84.1" y2="638.8" stroke="#cdcdcd" stroke-width="2.8"/>
<line x1="60.9" y1="624" x2="58.9" y2="628" stroke="#2146ea" stroke-width="2.8"/>
<line x1="58.9" y1="628" x2="56.9" y2="632" stroke="#cdcdcd" stroke-width="2.8"/>
<line x1="33.1" y1="616.1" x2="34.75" y2="616.45" stroke="#777777" stroke-width="2.8"/>
<line x1="34.75" y1="616.45" x2="36.4" y2="616.8" stroke="#cdcdcd" stroke-width="2.8"/>
<line x1="13.2" y1="611.5" x2="12.55" y2="613.45" stroke="#777777" stroke-width="2.8"/>
<line x1="12.55" y1="613.45" x2="11.9" y2="615.4" stroke="#cdcdcd" stroke-width="2.8"/>
<line x1="13.2" y1="611.5" x2="7.9" y2="612.15" stroke="#777777" stroke-width="2.8"/>
<line x1="7.9" y1="612.15" x2="2.6" y2="612.8" stroke="#cdcdcd" stroke-width="2.8"/>
</g>
<circle cx="60.7" cy="547.6" r="3.75" fill="url(#gC)"/>
<circle cx="72.8" cy="544.4" r="3.75" fill="url(#gC)"/>
<circle cx="82.5" cy="555.7" r="3.75" fill="url(#gC)"/>
<circle cx="77.6" cy="567.9" r="3.75" fill="url(#gC)"/>
<circle cx="63.9" cy="571.9" r="3.75" fill="url(#gC)"/>
<circle cx="56.6" cy="560.6" r="3.75" fill="url(#gC)"/>
<circle cx="46.1" cy="580.8" r="3.75" fill="url(#gC)"/>
<circle cx="94.1" cy="552.6" r="3.75" fill="url(#gC)"/>
<circle cx="95" cy="540.3" r="3.75" fill="url(#gC)"/>
<circle cx="107.4" cy="536.8" r="3.75" fill="url(#gC)"/>
<circle cx="118.8" cy="543.8" r="3.75" fill="url(#gC)"/>
<circle cx="117.9" cy="555.3" r="3.75" fill="url(#gC)"/>
<circle cx="105.6" cy="558.8" r="3.75" fill="url(#gC)"/>
<circle cx="139.1" cy="551.8" r="3.75" fill="url(#gC)"/>
<circle cx="152.3" cy="552.6" r="3.75" fill="url(#gC)"/>
<circle cx="159.4" cy="551.8" r="3.75" fill="url(#gC)"/>
<circle cx="160.3" cy="555.3" r="3.75" fill="url(#gC)"/>
<circle cx="172.6" cy="551.8" r="3.75" fill="url(#gC)"/>
<circle cx="173.5" cy="555.3" r="3.75" fill="url(#gC)"/>
<circle cx="181.5" cy="554.4" r="3.75" fill="url(#gC)"/>
<circle cx="149.5" cy="586.5" r="3.75" fill="url(#gC)"/>
<circle cx="137.9" cy="605.3" r="3.75" fill="url(#gC)"/>
<circle cx="130" cy="594.7" r="3.75" fill="url(#gC)"/>
<circle cx="116.8" cy="597.4" r="3.75" fill="url(#gC)"/>
<circle cx="113.2" cy="611.5" r="3.75" fill="url(#gC)"/>
<circle cx="121.2" cy="621.2" r="3.75" fill="url(#gC)"/>
<circle cx="134.4" cy="618.5" r="3.75" fill="url(#gC)"/>
<circle cx="100" cy="615" r="3.75" fill="url(#gC)"/>
<circle cx="89.4" cy="607.9" r="3.75" fill="url(#gC)"/>
<circle cx="98.2" cy="626.5" r="3.75" fill="url(#gC)"/>
<circle cx="85.9" cy="630" r="3.75" fill="url(#gC)"/>
<circle cx="75.3" cy="622.9" r="3.75" fill="url(#gC)"/>
<circle cx="76.2" cy="611.5" r="3.75" fill="url(#gC)"/>
<circle cx="54.9" cy="614.8" r="3.75" fill="url(#gC)"/>
<circle cx="42.4" cy="614.1" r="3.75" fill="url(#gC)"/>
<circle cx="35.7" cy="611.5" r="3.75" fill="url(#gC)"/>
<circle cx="33.1" cy="616.1" r="3.75" fill="url(#gC)"/>
<circle cx="21.2" cy="610.8" r="3.75" fill="url(#gC)"/>
<circle cx="18.5" cy="614.8" r="3.75" fill="url(#gC)"/>
<circle cx="13.2" cy="611.5" r="3.75" fill="url(#gC)"/>
<circle cx="45.3" cy="567.1" r="3.8" fill="url(#gN)"/>
<circle cx="58.2" cy="583.2" r="3.8" fill="url(#gN)"/>
<circle cx="132.1" cy="542.1" r="3.8" fill="url(#gN)"/>
<circle cx="130.3" cy="559.7" r="3.8" fill="url(#gN)"/>
<circle cx="136.3" cy="583.8" r="3.8" fill="url(#gN)"/>
<circle cx="148.5" cy="600" r="3.8" fill="url(#gN)"/>
<circle cx="63.5" cy="606.8" r="3.8" fill="url(#gN)"/>
<circle cx="60.9" cy="624" r="3.8" fill="url(#gN)"/>
<circle cx="55.8" cy="541.2" r="2.8" fill="url(#gH)"/>
<circle cx="76" cy="535.5" r="2.8" fill="url(#gH)"/>
<circle cx="82" cy="576.5" r="2.8" fill="url(#gH)"/>
<circle cx="38" cy="563" r="2.8" fill="url(#gH)"/>
<circle cx="39.6" cy="586.5" r="2.8" fill="url(#gH)"/>
<circle cx="60.2" cy="592" r="2.8" fill="url(#gH)"/>
<circle cx="86.2" cy="536.8" r="2.8" fill="url(#gH)"/>
<circle cx="107.4" cy="527.9" r="2.8" fill="url(#gH)"/>
<circle cx="104.7" cy="566.8" r="2.8" fill="url(#gH)"/>
<circle cx="136.5" cy="535" r="2.8" fill="url(#gH)"/>
<circle cx="155.9" cy="550.9" r="2.8" fill="url(#gH)"/>
<circle cx="180.6" cy="551.8" r="2.8" fill="url(#gH)"/>
<circle cx="191.2" cy="554.4" r="2.8" fill="url(#gH)"/>
<circle cx="133.2" cy="573.6" r="2.8" fill="url(#gH)"/>
<circle cx="155.7" cy="579" r="2.8" fill="url(#gH)"/>
<circle cx="156.5" cy="602.6" r="2.8" fill="url(#gH)"/>
<circle cx="111.2" cy="590.5" r="2.8" fill="url(#gH)"/>
<circle cx="117.6" cy="630.9" r="2.8" fill="url(#gH)"/>
<circle cx="139.7" cy="625.6" r="2.8" fill="url(#gH)"/>
<circle cx="90.3" cy="599.1" r="2.8" fill="url(#gH)"/>
<circle cx="106.2" cy="631.8" r="2.8" fill="url(#gH)"/>
<circle cx="84.1" cy="638.8" r="2.8" fill="url(#gH)"/>
<circle cx="56.9" cy="632" r="2.8" fill="url(#gH)"/>
<circle cx="36.4" cy="616.8" r="2.8" fill="url(#gH)"/>
<circle cx="11.9" cy="615.4" r="2.8" fill="url(#gH)"/>
<circle cx="2.6" cy="612.8" r="2.8" fill="url(#gH)"/>
<g stroke-linecap="round">
<line x1="301.9" y1="554.1" x2="314" y2="550.1" stroke="#777777" stroke-width="3.7"/>
<line x1="301.9" y1="554.1" x2="298.7" y2="567.1" stroke="#777777" stroke-width="3.7"/>
<line x1="314" y1="550.1" x2="322.9" y2="559.8" stroke="#777777" stroke-width="3.7"/>
<line x1="322.9" y1="559.8" x2="318.9" y2="571.9" stroke="#777777" stroke-width="3.7"/>
<line x1="322.9" y1="559.8" x2="334.3" y2="555.7" stroke="#777777" stroke-width="3.7"/>
<line x1="318.9" y1="571.9" x2="306" y2="576.8" stroke="#777777" stroke-width="3.7"/>
<line x1="306" y1="576.8" x2="298.7" y2="567.1" stroke="#777777" stroke-width="3.7"/>
<line x1="306" y1="576.8" x2="302.35" y2="582.45" stroke="#777777" stroke-width="3.7"/>
<line x1="302.35" y1="582.45" x2="298.7" y2="588.1" stroke="#2146ea" stroke-width="3.7"/>
<line x1="298.7" y1="567.1" x2="293.05" y2="570.3" stroke="#777777" stroke-width="3.7"/>
<line x1="293.05" y1="570.3" x2="287.4" y2="573.5" stroke="#2146ea" stroke-width="3.7"/>
<line x1="287.4" y1="573.5" x2="287.8" y2="580" stroke="#2146ea" stroke-width="3.7"/>
<line x1="287.8" y1="580" x2="288.2" y2="586.5" stroke="#777777" stroke-width="3.7"/>
<line x1="288.2" y1="586.5" x2="293.45" y2="587.3" stroke="#777777" stroke-width="3.7"/>
<line x1="293.45" y1="587.3" x2="298.7" y2="588.1" stroke="#2146ea" stroke-width="3.7"/>
<line x1="334.3" y1="555.7" x2="334.3" y2="542.8" stroke="#777777" stroke-width="3.7"/>
<line x1="334.3" y1="555.7" x2="346.5" y2="562.4" stroke="#777777" stroke-width="3.7"/>
<line x1="334.3" y1="542.8" x2="347.3" y2="537.7" stroke="#777777" stroke-width="3.7"/>
<line x1="347.3" y1="537.7" x2="358.8" y2="545.5" stroke="#777777" stroke-width="3.7"/>
<line x1="358.8" y1="545.5" x2="358" y2="557.8" stroke="#777777" stroke-width="3.7"/>
<line x1="358.8" y1="545.5" x2="365.2" y2="544.5" stroke="#777777" stroke-width="3.7"/>
<line x1="365.2" y1="544.5" x2="371.6" y2="543.5" stroke="#2146ea" stroke-width="3.7"/>
<line x1="358" y1="557.8" x2="346.5" y2="562.4" stroke="#777777" stroke-width="3.7"/>
<line x1="358" y1="557.8" x2="364.45" y2="560.95" stroke="#777777" stroke-width="3.7"/>
<line x1="364.45" y1="560.95" x2="370.9" y2="564.1" stroke="#2146ea" stroke-width="3.7"/>
<line x1="371.6" y1="543.5" x2="375.3" y2="549.05" stroke="#2146ea" stroke-width="3.7"/>
<line x1="375.3" y1="549.05" x2="379" y2="554.6" stroke="#777777" stroke-width="3.7"/>
<line x1="379" y1="554.6" x2="374.95" y2="559.35" stroke="#777777" stroke-width="3.7"/>
<line x1="374.95" y1="559.35" x2="370.9" y2="564.1" stroke="#2146ea" stroke-width="3.7"/>
<line x1="379" y1="554.6" x2="393.7" y2="555.3" stroke="#777777" stroke-width="3.7"/>
<line x1="393.7" y1="555.3" x2="400.3" y2="550.1" stroke="#777777" stroke-width="3.7"/>
<line x1="393.7" y1="555.3" x2="400.3" y2="560.4" stroke="#777777" stroke-width="3.7"/>
<line x1="400.3" y1="550.1" x2="413.5" y2="550.9" stroke="#777777" stroke-width="3.7"/>
<line x1="400.3" y1="560.4" x2="413.5" y2="561.2" stroke="#777777" stroke-width="3.7"/>
<line x1="413.5" y1="550.9" x2="420.9" y2="556.8" stroke="#777777" stroke-width="3.7"/>
<line x1="413.5" y1="561.2" x2="420.9" y2="556.8" stroke="#777777" stroke-width="3.7"/>
<line x1="376.6" y1="588.4" x2="382.5" y2="589.5" stroke="#2146ea" stroke-width="3.7"/>
<line x1="382.5" y1="589.5" x2="388.4" y2="590.6" stroke="#777777" stroke-width="3.7"/>
<line x1="376.6" y1="588.4" x2="373.65" y2="593.55" stroke="#2146ea" stroke-width="3.7"/>
<line x1="373.65" y1="593.55" x2="370.7" y2="598.7" stroke="#777777" stroke-width="3.7"/>
<line x1="388.4" y1="590.6" x2="388.75" y2="597.95" stroke="#777777" stroke-width="3.7"/>
<line x1="388.75" y1="597.95" x2="389.1" y2="605.3" stroke="#2146ea" stroke-width="3.7"/>
<line x1="389.1" y1="605.3" x2="383.95" y2="607.85" stroke="#2146ea" stroke-width="3.7"/>
<line x1="383.95" y1="607.85" x2="378.8" y2="610.4" stroke="#777777" stroke-width="3.7"/>
<line x1="378.8" y1="610.4" x2="370.7" y2="598.7" stroke="#777777" stroke-width="3.7"/>
<line x1="378.8" y1="610.4" x2="374.4" y2="622.9" stroke="#777777" stroke-width="3.7"/>
<line x1="370.7" y1="598.7" x2="357.5" y2="600.9" stroke="#777777" stroke-width="3.7"/>
<line x1="357.5" y1="600.9" x2="353.8" y2="614.1" stroke="#777777" stroke-width="3.7"/>
<line x1="353.8" y1="614.1" x2="361.9" y2="625.1" stroke="#777777" stroke-width="3.7"/>
<line x1="353.8" y1="614.1" x2="340.6" y2="617.1" stroke="#777777" stroke-width="3.7"/>
<line x1="361.9" y1="625.1" x2="374.4" y2="622.9" stroke="#777777" stroke-width="3.7"/>
<line x1="340.6" y1="617.1" x2="329.4" y2="610.2" stroke="#777777" stroke-width="3.7"/>
<line x1="340.6" y1="617.1" x2="339.1" y2="627.4" stroke="#777777" stroke-width="3.7"/>
<line x1="329.4" y1="610.2" x2="316.6" y2="613.7" stroke="#777777" stroke-width="3.7"/>
<line x1="339.1" y1="627.4" x2="326.4" y2="629" stroke="#777777" stroke-width="3.7"/>
<line x1="326.4" y1="629" x2="315.1" y2="622.5" stroke="#777777" stroke-width="3.7"/>
<line x1="315.1" y1="622.5" x2="316.6" y2="613.7" stroke="#777777" stroke-width="3.7"/>
<line x1="315.1" y1="622.5" x2="308.5" y2="623.25" stroke="#777777" stroke-width="3.7"/>
<line x1="308.5" y1="623.25" x2="301.9" y2="624" stroke="#2146ea" stroke-width="3.7"/>
<line x1="316.6" y1="613.7" x2="310.35" y2="610.4" stroke="#777777" stroke-width="3.7"/>
<line x1="310.35" y1="610.4" x2="304.1" y2="607.1" stroke="#2146ea" stroke-width="3.7"/>
<line x1="304.1" y1="607.1" x2="299.7" y2="611.1" stroke="#2146ea" stroke-width="3.7"/>
<line x1="299.7" y1="611.1" x2="295.3" y2="615.1" stroke="#777777" stroke-width="3.7"/>
<line x1="295.3" y1="615.1" x2="298.6" y2="619.55" stroke="#777777" stroke-width="3.7"/>
<line x1="298.6" y1="619.55" x2="301.9" y2="624" stroke="#2146ea" stroke-width="3.7"/>
<line x1="295.3" y1="615.1" x2="281.3" y2="614.4" stroke="#777777" stroke-width="3.7"/>
<line x1="281.3" y1="614.4" x2="274.7" y2="612.2" stroke="#777777" stroke-width="3.7"/>
<line x1="274.7" y1="612.2" x2="261.5" y2="612.2" stroke="#777777" stroke-width="3.7"/>
<line x1="274.7" y1="612.2" x2="258.5" y2="612.9" stroke="#777777" stroke-width="3.7"/>
<line x1="261.5" y1="612.2" x2="258.5" y2="612.9" stroke="#777777" stroke-width="3.7"/>
<line x1="261.5" y1="612.2" x2="252.6" y2="611.5" stroke="#777777" stroke-width="3.7"/>
<line x1="258.5" y1="612.9" x2="252.6" y2="611.5" stroke="#777777" stroke-width="3.7"/>
<line x1="301.9" y1="554.1" x2="299.9" y2="550.85" stroke="#777777" stroke-width="2.8"/>
<line x1="299.9" y1="550.85" x2="297.9" y2="547.6" stroke="#cdcdcd" stroke-width="2.8"/>
<line x1="314" y1="550.1" x2="315.65" y2="545.65" stroke="#777777" stroke-width="2.8"/>
<line x1="315.65" y1="545.65" x2="317.3" y2="541.2" stroke="#cdcdcd" stroke-width="2.8"/>
<line x1="318.9" y1="571.9" x2="321.1" y2="575.65" stroke="#777777" stroke-width="2.8"/>
<line x1="321.1" y1="575.65" x2="323.3" y2="579.4" stroke="#cdcdcd" stroke-width="2.8"/>
<line x1="287.4" y1="573.5" x2="283.75" y2="572.3" stroke="#2146ea" stroke-width="2.8"/>
<line x1="283.75" y1="572.3" x2="280.1" y2="571.1" stroke="#cdcdcd" stroke-width="2.8"/>
<line x1="288.2" y1="586.5" x2="284.95" y2="590.1" stroke="#777777" stroke-width="2.8"/>
<line x1="284.95" y1="590.1" x2="281.7" y2="593.7" stroke="#cdcdcd" stroke-width="2.8"/>
<line x1="334.3" y1="542.8" x2="330.65" y2="539.95" stroke="#777777" stroke-width="2.8"/>
<line x1="330.65" y1="539.95" x2="327" y2="537.1" stroke="#cdcdcd" stroke-width="2.8"/>
<line x1="347.3" y1="537.7" x2="347.65" y2="532.95" stroke="#777777" stroke-width="2.8"/>
<line x1="347.65" y1="532.95" x2="348" y2="528.2" stroke="#cdcdcd" stroke-width="2.8"/>
<line x1="346.5" y1="562.4" x2="346.15" y2="567.05" stroke="#777777" stroke-width="2.8"/>
<line x1="346.15" y1="567.05" x2="345.8" y2="571.7" stroke="#cdcdcd" stroke-width="2.8"/>
<line x1="371.6" y1="543.5" x2="373.8" y2="539.45" stroke="#2146ea" stroke-width="2.8"/>
<line x1="373.8" y1="539.45" x2="376" y2="535.4" stroke="#cdcdcd" stroke-width="2.8"/>
<line x1="370.9" y1="564.1" x2="372.35" y2="569.25" stroke="#2146ea" stroke-width="2.8"/>
<line x1="372.35" y1="569.25" x2="373.8" y2="574.4" stroke="#cdcdcd" stroke-width="2.8"/>
<line x1="400.3" y1="550.1" x2="397.7" y2="548.65" stroke="#777777" stroke-width="2.8"/>
<line x1="397.7" y1="548.65" x2="395.1" y2="547.2" stroke="#cdcdcd" stroke-width="2.8"/>
<line x1="400.3" y1="560.4" x2="397.7" y2="561.9" stroke="#777777" stroke-width="2.8"/>
<line x1="397.7" y1="561.9" x2="395.1" y2="563.4" stroke="#cdcdcd" stroke-width="2.8"/>
<line x1="413.5" y1="550.9" x2="416.45" y2="549.4" stroke="#777777" stroke-width="2.8"/>
<line x1="416.45" y1="549.4" x2="419.4" y2="547.9" stroke="#cdcdcd" stroke-width="2.8"/>
<line x1="413.5" y1="561.2" x2="416.45" y2="563.05" stroke="#777777" stroke-width="2.8"/>
<line x1="416.45" y1="563.05" x2="419.4" y2="564.9" stroke="#cdcdcd" stroke-width="2.8"/>
<line x1="420.9" y1="556.8" x2="426.05" y2="557.15" stroke="#777777" stroke-width="2.8"/>
<line x1="426.05" y1="557.15" x2="431.2" y2="557.5" stroke="#cdcdcd" stroke-width="2.8"/>
<line x1="388.4" y1="590.6" x2="392.05" y2="588" stroke="#777777" stroke-width="2.8"/>
<line x1="392.05" y1="588" x2="395.7" y2="585.4" stroke="#cdcdcd" stroke-width="2.8"/>
<line x1="389.1" y1="605.3" x2="393.15" y2="607.5" stroke="#2146ea" stroke-width="2.8"/>
<line x1="393.15" y1="607.5" x2="397.2" y2="609.7" stroke="#cdcdcd" stroke-width="2.8"/>
<line x1="357.5" y1="600.9" x2="354.95" y2="597.2" stroke="#777777" stroke-width="2.8"/>
<line x1="354.95" y1="597.2" x2="352.4" y2="593.5" stroke="#cdcdcd" stroke-width="2.8"/>
<line x1="361.9" y1="625.1" x2="360.45" y2="629.55" stroke="#777777" stroke-width="2.8"/>
<line x1="360.45" y1="629.55" x2="359" y2="634" stroke="#cdcdcd" stroke-width="2.8"/>
<line x1="374.4" y1="622.9" x2="377.35" y2="626.95" stroke="#777777" stroke-width="2.8"/>
<line x1="377.35" y1="626.95" x2="380.3" y2="631" stroke="#cdcdcd" stroke-width="2.8"/>
<line x1="329.4" y1="610.2" x2="329.95" y2="607.25" stroke="#777777" stroke-width="2.8"/>
<line x1="329.95" y1="607.25" x2="330.5" y2="604.3" stroke="#cdcdcd" stroke-width="2.8"/>
<line x1="339.1" y1="627.4" x2="343.15" y2="629.6" stroke="#777777" stroke-width="2.8"/>
<line x1="343.15" y1="629.6" x2="347.2" y2="631.8" stroke="#cdcdcd" stroke-width="2.8"/>
<line x1="326.4" y1="629" x2="326.05" y2="632.65" stroke="#777777" stroke-width="2.8"/>
<line x1="326.05" y1="632.65" x2="325.7" y2="636.3" stroke="#cdcdcd" stroke-width="2.8"/>
<line x1="304.1" y1="607.1" x2="303" y2="603.4" stroke="#2146ea" stroke-width="2.8"/>
<line x1="303" y1="603.4" x2="301.9" y2="599.7" stroke="#cdcdcd" stroke-width="2.8"/>
<line x1="301.9" y1="624" x2="299.7" y2="626.95" stroke="#2146ea" stroke-width="2.8"/>
<line x1="299.7" y1="626.95" x2="297.5" y2="629.9" stroke="#cdcdcd" stroke-width="2.8"/>
<line x1="274.7" y1="612.2" x2="276.15" y2="613.3" stroke="#777777" stroke-width="2.8"/>
<line x1="276.15" y1="613.3" x2="277.6" y2="614.4" stroke="#cdcdcd" stroke-width="2.8"/>
<line x1="252.6" y1="611.5" x2="252.6" y2="612.2" stroke="#777777" stroke-width="2.8"/>
<line x1="252.6" y1="612.2" x2="252.6" y2="612.9" stroke="#cdcdcd" stroke-width="2.8"/>
<line x1="252.6" y1="611.5" x2="247.85" y2="611.5" stroke="#777777" stroke-width="2.8"/>
<line x1="247.85" y1="611.5" x2="243.1" y2="611.5" stroke="#cdcdcd" stroke-width="2.8"/>
</g>
<circle cx="301.9" cy="554.1" r="3.75" fill="url(#gC)"/>
<circle cx="314" cy="550.1" r="3.75" fill="url(#gC)"/>
<circle cx="322.9" cy="559.8" r="3.75" fill="url(#gC)"/>
<circle cx="318.9" cy="571.9" r="3.75" fill="url(#gC)"/>
<circle cx="306" cy="576.8" r="3.75" fill="url(#gC)"/>
<circle cx="298.7" cy="567.1" r="3.75" fill="url(#gC)"/>
<circle cx="288.2" cy="586.5" r="3.75" fill="url(#gC)"/>
<circle cx="334.3" cy="555.7" r="3.75" fill="url(#gC)"/>
<circle cx="334.3" cy="542.8" r="3.75" fill="url(#gC)"/>
<circle cx="347.3" cy="537.7" r="3.75" fill="url(#gC)"/>
<circle cx="358.8" cy="545.5" r="3.75" fill="url(#gC)"/>
<circle cx="358" cy="557.8" r="3.75" fill="url(#gC)"/>
<circle cx="346.5" cy="562.4" r="3.75" fill="url(#gC)"/>
<circle cx="379" cy="554.6" r="3.75" fill="url(#gC)"/>
<circle cx="393.7" cy="555.3" r="3.75" fill="url(#gC)"/>
<circle cx="400.3" cy="550.1" r="3.75" fill="url(#gC)"/>
<circle cx="400.3" cy="560.4" r="3.75" fill="url(#gC)"/>
<circle cx="413.5" cy="550.9" r="3.75" fill="url(#gC)"/>
<circle cx="413.5" cy="561.2" r="3.75" fill="url(#gC)"/>
<circle cx="420.9" cy="556.8" r="3.75" fill="url(#gC)"/>
<circle cx="388.4" cy="590.6" r="3.75" fill="url(#gC)"/>
<circle cx="378.8" cy="610.4" r="3.75" fill="url(#gC)"/>
<circle cx="370.7" cy="598.7" r="3.75" fill="url(#gC)"/>
<circle cx="357.5" cy="600.9" r="3.75" fill="url(#gC)"/>
<circle cx="353.8" cy="614.1" r="3.75" fill="url(#gC)"/>
<circle cx="361.9" cy="625.1" r="3.75" fill="url(#gC)"/>
<circle cx="374.4" cy="622.9" r="3.75" fill="url(#gC)"/>
<circle cx="340.6" cy="617.1" r="3.75" fill="url(#gC)"/>
<circle cx="329.4" cy="610.2" r="3.75" fill="url(#gC)"/>
<circle cx="339.1" cy="627.4" r="3.75" fill="url(#gC)"/>
<circle cx="326.4" cy="629" r="3.75" fill="url(#gC)"/>
<circle cx="315.1" cy="622.5" r="3.75" fill="url(#gC)"/>
<circle cx="316.6" cy="613.7" r="3.75" fill="url(#gC)"/>
<circle cx="295.3" cy="615.1" r="3.75" fill="url(#gC)"/>
<circle cx="281.3" cy="614.4" r="3.75" fill="url(#gC)"/>
<circle cx="274.7" cy="612.2" r="3.75" fill="url(#gC)"/>
<circle cx="261.5" cy="612.2" r="3.75" fill="url(#gC)"/>
<circle cx="258.5" cy="612.9" r="3.75" fill="url(#gC)"/>
<circle cx="252.6" cy="611.5" r="3.75" fill="url(#gC)"/>
<circle cx="287.4" cy="573.5" r="3.8" fill="url(#gN)"/>
<circle cx="298.7" cy="588.1" r="3.8" fill="url(#gN)"/>
<circle cx="371.6" cy="543.5" r="3.8" fill="url(#gN)"/>
<circle cx="370.9" cy="564.1" r="3.8" fill="url(#gN)"/>
<circle cx="376.6" cy="588.4" r="3.8" fill="url(#gN)"/>
<circle cx="389.1" cy="605.3" r="3.8" fill="url(#gN)"/>
<circle cx="304.1" cy="607.1" r="3.8" fill="url(#gN)"/>
<circle cx="301.9" cy="624" r="3.8" fill="url(#gN)"/>
<circle cx="297.9" cy="547.6" r="2.8" fill="url(#gH)"/>
<circle cx="317.3" cy="541.2" r="2.8" fill="url(#gH)"/>
<circle cx="323.3" cy="579.4" r="2.8" fill="url(#gH)"/>
<circle cx="280.1" cy="571.1" r="2.8" fill="url(#gH)"/>
<circle cx="281.7" cy="593.7" r="2.8" fill="url(#gH)"/>
<circle cx="327" cy="537.1" r="2.8" fill="url(#gH)"/>
<circle cx="348" cy="528.2" r="2.8" fill="url(#gH)"/>
<circle cx="345.8" cy="571.7" r="2.8" fill="url(#gH)"/>
<circle cx="376" cy="535.4" r="2.8" fill="url(#gH)"/>
<circle cx="373.8" cy="574.4" r="2.8" fill="url(#gH)"/>
<circle cx="395.1" cy="547.2" r="2.8" fill="url(#gH)"/>
<circle cx="395.1" cy="563.4" r="2.8" fill="url(#gH)"/>
<circle cx="419.4" cy="547.9" r="2.8" fill="url(#gH)"/>
<circle cx="419.4" cy="564.9" r="2.8" fill="url(#gH)"/>
<circle cx="431.2" cy="557.5" r="2.8" fill="url(#gH)"/>
<circle cx="395.7" cy="585.4" r="2.8" fill="url(#gH)"/>
<circle cx="397.2" cy="609.7" r="2.8" fill="url(#gH)"/>
<circle cx="352.4" cy="593.5" r="2.8" fill="url(#gH)"/>
<circle cx="359" cy="634" r="2.8" fill="url(#gH)"/>
<circle cx="380.3" cy="631" r="2.8" fill="url(#gH)"/>
<circle cx="330.5" cy="604.3" r="2.8" fill="url(#gH)"/>
<circle cx="347.2" cy="631.8" r="2.8" fill="url(#gH)"/>
<circle cx="325.7" cy="636.3" r="2.8" fill="url(#gH)"/>
<circle cx="301.9" cy="599.7" r="2.8" fill="url(#gH)"/>
<circle cx="297.5" cy="629.9" r="2.8" fill="url(#gH)"/>
<circle cx="277.6" cy="614.4" r="2.8" fill="url(#gH)"/>
<circle cx="252.6" cy="612.9" r="2.8" fill="url(#gH)"/>
<circle cx="243.1" cy="611.5" r="2.8" fill="url(#gH)"/>
<g stroke-linecap="round">
<line x1="546.1" y1="548.3" x2="558.2" y2="544.3" stroke="#777777" stroke-width="3.7"/>
<line x1="546.1" y1="548.3" x2="542.1" y2="561.2" stroke="#777777" stroke-width="3.7"/>
<line x1="558.2" y1="544.3" x2="566.3" y2="554.8" stroke="#777777" stroke-width="3.7"/>
<line x1="566.3" y1="554.8" x2="562.3" y2="568.5" stroke="#777777" stroke-width="3.7"/>
<line x1="566.3" y1="554.8" x2="579.3" y2="551.5" stroke="#777777" stroke-width="3.7"/>
<line x1="562.3" y1="568.5" x2="549.3" y2="571.8" stroke="#777777" stroke-width="3.7"/>
<line x1="549.3" y1="571.8" x2="542.1" y2="561.2" stroke="#777777" stroke-width="3.7"/>
<line x1="549.3" y1="571.8" x2="546.5" y2="577.05" stroke="#777777" stroke-width="3.7"/>
<line x1="546.5" y1="577.05" x2="543.7" y2="582.3" stroke="#2146ea" stroke-width="3.7"/>
<line x1="542.1" y1="561.2" x2="536.4" y2="564.05" stroke="#777777" stroke-width="3.7"/>
<line x1="536.4" y1="564.05" x2="530.7" y2="566.9" stroke="#2146ea" stroke-width="3.7"/>
<line x1="530.7" y1="566.9" x2="531.55" y2="573.8" stroke="#2146ea" stroke-width="3.7"/>
<line x1="531.55" y1="573.8" x2="532.4" y2="580.7" stroke="#777777" stroke-width="3.7"/>
<line x1="532.4" y1="580.7" x2="538.05" y2="581.5" stroke="#777777" stroke-width="3.7"/>
<line x1="538.05" y1="581.5" x2="543.7" y2="582.3" stroke="#2146ea" stroke-width="3.7"/>
<line x1="579.3" y1="551.5" x2="579.3" y2="540.2" stroke="#777777" stroke-width="3.7"/>
<line x1="579.3" y1="551.5" x2="590.8" y2="558.6" stroke="#777777" stroke-width="3.7"/>
<line x1="579.3" y1="540.2" x2="592.7" y2="536.6" stroke="#777777" stroke-width="3.7"/>
<line x1="592.7" y1="536.6" x2="604" y2="543.6" stroke="#777777" stroke-width="3.7"/>
<line x1="604" y1="543.6" x2="602.8" y2="555.1" stroke="#777777" stroke-width="3.7"/>
<line x1="604" y1="543.6" x2="610.75" y2="542.9" stroke="#777777" stroke-width="3.7"/>
<line x1="610.75" y1="542.9" x2="617.5" y2="542.2" stroke="#2146ea" stroke-width="3.7"/>
<line x1="602.8" y1="555.1" x2="590.8" y2="558.6" stroke="#777777" stroke-width="3.7"/>
<line x1="602.8" y1="555.1" x2="609.8" y2="557.1" stroke="#777777" stroke-width="3.7"/>
<line x1="609.8" y1="557.1" x2="616.8" y2="559.1" stroke="#2146ea" stroke-width="3.7"/>
<line x1="617.5" y1="542.2" x2="620.8" y2="547.35" stroke="#2146ea" stroke-width="3.7"/>
<line x1="620.8" y1="547.35" x2="624.1" y2="552.5" stroke="#777777" stroke-width="3.7"/>
<line x1="624.1" y1="552.5" x2="620.45" y2="555.8" stroke="#777777" stroke-width="3.7"/>
<line x1="620.45" y1="555.8" x2="616.8" y2="559.1" stroke="#2146ea" stroke-width="3.7"/>
<line x1="624.1" y1="552.5" x2="638.1" y2="552.5" stroke="#777777" stroke-width="3.7"/>
<line x1="638.1" y1="552.5" x2="642.5" y2="551" stroke="#777777" stroke-width="3.7"/>
<line x1="638.1" y1="552.5" x2="645.4" y2="554" stroke="#777777" stroke-width="3.7"/>
<line x1="642.5" y1="551" x2="645.4" y2="554" stroke="#777777" stroke-width="3.7"/>
<line x1="642.5" y1="551" x2="657.9" y2="551.8" stroke="#777777" stroke-width="3.7"/>
<line x1="645.4" y1="554" x2="657.9" y2="551.8" stroke="#777777" stroke-width="3.7"/>
<line x1="645.4" y1="554" x2="660.1" y2="554.7" stroke="#777777" stroke-width="3.7"/>
<line x1="657.9" y1="551.8" x2="660.1" y2="554.7" stroke="#777777" stroke-width="3.7"/>
<line x1="657.9" y1="551.8" x2="667.5" y2="554" stroke="#777777" stroke-width="3.7"/>
<line x1="660.1" y1="554.7" x2="667.5" y2="554" stroke="#777777" stroke-width="3.7"/>
<line x1="622.4" y1="583" x2="628.2" y2="584.65" stroke="#2146ea" stroke-width="3.7"/>
<line x1="628.2" y1="584.65" x2="634" y2="586.3" stroke="#777777" stroke-width="3.7"/>
<line x1="622.4" y1="583" x2="619" y2="589.05" stroke="#2146ea" stroke-width="3.7"/>
<line x1="619" y1="589.05" x2="615.6" y2="595.1" stroke="#777777" stroke-width="3.7"/>
<line x1="634" y1="586.3" x2="634.35" y2="592.95" stroke="#777777" stroke-width="3.7"/>
<line x1="634.35" y1="592.95" x2="634.7" y2="599.6" stroke="#2146ea" stroke-width="3.7"/>
<line x1="634.7" y1="599.6" x2="629.55" y2="602.5" stroke="#2146ea" stroke-width="3.7"/>
<line x1="629.55" y1="602.5" x2="624.4" y2="605.4" stroke="#777777" stroke-width="3.7"/>
<line x1="624.4" y1="605.4" x2="615.6" y2="595.1" stroke="#777777" stroke-width="3.7"/>
<line x1="624.4" y1="605.4" x2="620" y2="618.7" stroke="#777777" stroke-width="3.7"/>
<line x1="615.6" y1="595.1" x2="603.1" y2="598.1" stroke="#777777" stroke-width="3.7"/>
<line x1="603.1" y1="598.1" x2="599.4" y2="611.3" stroke="#777777" stroke-width="3.7"/>
<line x1="599.4" y1="611.3" x2="606.8" y2="620.1" stroke="#777777" stroke-width="3.7"/>
<line x1="599.4" y1="611.3" x2="585.4" y2="615.7" stroke="#777777" stroke-width="3.7"/>
<line x1="606.8" y1="620.1" x2="620" y2="618.7" stroke="#777777" stroke-width="3.7"/>
<line x1="585.4" y1="615.7" x2="574.4" y2="607.3" stroke="#777777" stroke-width="3.7"/>
<line x1="585.4" y1="615.7" x2="583.2" y2="626" stroke="#777777" stroke-width="3.7"/>
<line x1="574.4" y1="607.3" x2="561.5" y2="610.7" stroke="#777777" stroke-width="3.7"/>
<line x1="583.2" y1="626" x2="572.1" y2="628.5" stroke="#777777" stroke-width="3.7"/>
<line x1="572.1" y1="628.5" x2="560.7" y2="622.9" stroke="#777777" stroke-width="3.7"/>
<line x1="560.7" y1="622.9" x2="561.5" y2="610.7" stroke="#777777" stroke-width="3.7"/>
<line x1="560.7" y1="622.9" x2="553.45" y2="623.7" stroke="#777777" stroke-width="3.7"/>
<line x1="553.45" y1="623.7" x2="546.2" y2="624.5" stroke="#2146ea" stroke-width="3.7"/>
<line x1="561.5" y1="610.7" x2="555.45" y2="607.9" stroke="#777777" stroke-width="3.7"/>
<line x1="555.45" y1="607.9" x2="549.4" y2="605.1" stroke="#2146ea" stroke-width="3.7"/>
<line x1="549.4" y1="605.1" x2="544.95" y2="609.55" stroke="#2146ea" stroke-width="3.7"/>
<line x1="544.95" y1="609.55" x2="540.5" y2="614" stroke="#777777" stroke-width="3.7"/>
<line x1="540.5" y1="614" x2="543.35" y2="619.25" stroke="#777777" stroke-width="3.7"/>
<line x1="543.35" y1="619.25" x2="546.2" y2="624.5" stroke="#2146ea" stroke-width="3.7"/>
<line x1="540.5" y1="614" x2="528.4" y2="614" stroke="#777777" stroke-width="3.7"/>
<line x1="528.4" y1="614" x2="521.9" y2="610.7" stroke="#777777" stroke-width="3.7"/>
<line x1="528.4" y1="614" x2="520.3" y2="616.4" stroke="#777777" stroke-width="3.7"/>
<line x1="521.9" y1="610.7" x2="520.3" y2="616.4" stroke="#777777" stroke-width="3.7"/>
<line x1="521.9" y1="610.7" x2="507.4" y2="610.7" stroke="#777777" stroke-width="3.7"/>
<line x1="520.3" y1="616.4" x2="507.4" y2="610.7" stroke="#777777" stroke-width="3.7"/>
<line x1="520.3" y1="616.4" x2="504.9" y2="615.6" stroke="#777777" stroke-width="3.7"/>
<line x1="507.4" y1="610.7" x2="504.9" y2="615.6" stroke="#777777" stroke-width="3.7"/>
<line x1="507.4" y1="610.7" x2="498.5" y2="612.4" stroke="#777777" stroke-width="3.7"/>
<line x1="504.9" y1="615.6" x2="498.5" y2="612.4" stroke="#777777" stroke-width="3.7"/>
<line x1="546.1" y1="548.3" x2="543.25" y2="544.25" stroke="#777777" stroke-width="2.8"/>
<line x1="543.25" y1="544.25" x2="540.4" y2="540.2" stroke="#cdcdcd" stroke-width="2.8"/>
<line x1="558.2" y1="544.3" x2="560.25" y2="539.85" stroke="#777777" stroke-width="2.8"/>
<line x1="560.25" y1="539.85" x2="562.3" y2="535.4" stroke="#cdcdcd" stroke-width="2.8"/>
<line x1="562.3" y1="568.5" x2="565.1" y2="572.55" stroke="#777777" stroke-width="2.8"/>
<line x1="565.1" y1="572.55" x2="567.9" y2="576.6" stroke="#cdcdcd" stroke-width="2.8"/>
<line x1="530.7" y1="566.9" x2="527.1" y2="564.9" stroke="#2146ea" stroke-width="2.8"/>
<line x1="527.1" y1="564.9" x2="523.5" y2="562.9" stroke="#cdcdcd" stroke-width="2.8"/>
<line x1="532.4" y1="580.7" x2="528.75" y2="583.5" stroke="#777777" stroke-width="2.8"/>
<line x1="528.75" y1="583.5" x2="525.1" y2="586.3" stroke="#cdcdcd" stroke-width="2.8"/>
<line x1="579.3" y1="540.2" x2="575.65" y2="537.8" stroke="#777777" stroke-width="2.8"/>
<line x1="575.65" y1="537.8" x2="572" y2="535.4" stroke="#cdcdcd" stroke-width="2.8"/>
<line x1="592.7" y1="536.6" x2="593.1" y2="532.15" stroke="#777777" stroke-width="2.8"/>
<line x1="593.1" y1="532.15" x2="593.5" y2="527.7" stroke="#cdcdcd" stroke-width="2.8"/>
<line x1="590.8" y1="558.6" x2="590.4" y2="562.8" stroke="#777777" stroke-width="2.8"/>
<line x1="590.4" y1="562.8" x2="590" y2="567" stroke="#cdcdcd" stroke-width="2.8"/>
<line x1="617.5" y1="542.2" x2="619.7" y2="538.55" stroke="#2146ea" stroke-width="2.8"/>
<line x1="619.7" y1="538.55" x2="621.9" y2="534.9" stroke="#cdcdcd" stroke-width="2.8"/>
<line x1="616.8" y1="559.1" x2="617.5" y2="563.9" stroke="#2146ea" stroke-width="2.8"/>
<line x1="617.5" y1="563.9" x2="618.2" y2="568.7" stroke="#cdcdcd" stroke-width="2.8"/>
<line x1="642.5" y1="551" x2="641.75" y2="550.65" stroke="#777777" stroke-width="2.8"/>
<line x1="641.75" y1="550.65" x2="641" y2="550.3" stroke="#cdcdcd" stroke-width="2.8"/>
<line x1="667.5" y1="554" x2="665.65" y2="553.25" stroke="#777777" stroke-width="2.8"/>
<line x1="665.65" y1="553.25" x2="663.8" y2="552.5" stroke="#cdcdcd" stroke-width="2.8"/>
<line x1="667.5" y1="554" x2="671.9" y2="554.35" stroke="#777777" stroke-width="2.8"/>
<line x1="671.9" y1="554.35" x2="676.3" y2="554.7" stroke="#cdcdcd" stroke-width="2.8"/>
<line x1="634" y1="586.3" x2="637.65" y2="583" stroke="#777777" stroke-width="2.8"/>
<line x1="637.65" y1="583" x2="641.3" y2="579.7" stroke="#cdcdcd" stroke-width="2.8"/>
<line x1="634.7" y1="599.6" x2="638.4" y2="601.8" stroke="#2146ea" stroke-width="2.8"/>
<line x1="638.4" y1="601.8" x2="642.1" y2="604" stroke="#cdcdcd" stroke-width="2.8"/>
<line x1="603.1" y1="598.1" x2="600.15" y2="594.4" stroke="#777777" stroke-width="2.8"/>
<line x1="600.15" y1="594.4" x2="597.2" y2="590.7" stroke="#cdcdcd" stroke-width="2.8"/>
<line x1="606.8" y1="620.1" x2="605.3" y2="624.55" stroke="#777777" stroke-width="2.8"/>
<line x1="605.3" y1="624.55" x2="603.8" y2="629" stroke="#cdcdcd" stroke-width="2.8"/>
<line x1="620" y1="618.7" x2="622.55" y2="622" stroke="#777777" stroke-width="2.8"/>
<line x1="622.55" y1="622" x2="625.1" y2="625.3" stroke="#cdcdcd" stroke-width="2.8"/>
<line x1="574.4" y1="607.3" x2="574.8" y2="603.4" stroke="#777777" stroke-width="2.8"/>
<line x1="574.8" y1="603.4" x2="575.2" y2="599.5" stroke="#cdcdcd" stroke-width="2.8"/>
<line x1="583.2" y1="626" x2="587.25" y2="628.6" stroke="#777777" stroke-width="2.8"/>
<line x1="587.25" y1="628.6" x2="591.3" y2="631.2" stroke="#cdcdcd" stroke-width="2.8"/>
<line x1="572.1" y1="628.5" x2="571.25" y2="633.75" stroke="#777777" stroke-width="2.8"/>
<line x1="571.25" y1="633.75" x2="570.4" y2="639" stroke="#cdcdcd" stroke-width="2.8"/>
<line x1="549.4" y1="605.1" x2="548.2" y2="601.45" stroke="#2146ea" stroke-width="2.8"/>
<line x1="548.2" y1="601.45" x2="547" y2="597.8" stroke="#cdcdcd" stroke-width="2.8"/>
<line x1="546.2" y1="624.5" x2="544.15" y2="628.55" stroke="#2146ea" stroke-width="2.8"/>
<line x1="544.15" y1="628.55" x2="542.1" y2="632.6" stroke="#cdcdcd" stroke-width="2.8"/>
<line x1="520.3" y1="616.4" x2="521.5" y2="616.8" stroke="#777777" stroke-width="2.8"/>
<line x1="521.5" y1="616.8" x2="522.7" y2="617.2" stroke="#cdcdcd" stroke-width="2.8"/>
<line x1="498.5" y1="612.4" x2="498.05" y2="614" stroke="#777777" stroke-width="2.8"/>
<line x1="498.05" y1="614" x2="497.6" y2="615.6" stroke="#cdcdcd" stroke-width="2.8"/>
<line x1="498.5" y1="612.4" x2="493.2" y2="612.4" stroke="#777777" stroke-width="2.8"/>
<line x1="493.2" y1="612.4" x2="487.9" y2="612.4" stroke="#cdcdcd" stroke-width="2.8"/>
</g>
<circle cx="546.1" cy="548.3" r="3.75" fill="url(#gC)"/>
<circle cx="558.2" cy="544.3" r="3.75" fill="url(#gC)"/>
<circle cx="566.3" cy="554.8" r="3.75" fill="url(#gC)"/>
<circle cx="562.3" cy="568.5" r="3.75" fill="url(#gC)"/>
<circle cx="549.3" cy="571.8" r="3.75" fill="url(#gC)"/>
<circle cx="542.1" cy="561.2" r="3.75" fill="url(#gC)"/>
<circle cx="532.4" cy="580.7" r="3.75" fill="url(#gC)"/>
<circle cx="579.3" cy="551.5" r="3.75" fill="url(#gC)"/>
<circle cx="579.3" cy="540.2" r="3.75" fill="url(#gC)"/>
<circle cx="592.7" cy="536.6" r="3.75" fill="url(#gC)"/>
<circle cx="604" cy="543.6" r="3.75" fill="url(#gC)"/>
<circle cx="602.8" cy="555.1" r="3.75" fill="url(#gC)"/>
<circle cx="590.8" cy="558.6" r="3.75" fill="url(#gC)"/>
<circle cx="624.1" cy="552.5" r="3.75" fill="url(#gC)"/>
<circle cx="638.1" cy="552.5" r="3.75" fill="url(#gC)"/>
<circle cx="642.5" cy="551" r="3.75" fill="url(#gC)"/>
<circle cx="645.4" cy="554" r="3.75" fill="url(#gC)"/>
<circle cx="657.9" cy="551.8" r="3.75" fill="url(#gC)"/>
<circle cx="660.1" cy="554.7" r="3.75" fill="url(#gC)"/>
<circle cx="667.5" cy="554" r="3.75" fill="url(#gC)"/>
<circle cx="634" cy="586.3" r="3.75" fill="url(#gC)"/>
<circle cx="624.4" cy="605.4" r="3.75" fill="url(#gC)"/>
<circle cx="615.6" cy="595.1" r="3.75" fill="url(#gC)"/>
<circle cx="603.1" cy="598.1" r="3.75" fill="url(#gC)"/>
<circle cx="599.4" cy="611.3" r="3.75" fill="url(#gC)"/>
<circle cx="606.8" cy="620.1" r="3.75" fill="url(#gC)"/>
<circle cx="620" cy="618.7" r="3.75" fill="url(#gC)"/>
<circle cx="585.4" cy="615.7" r="3.75" fill="url(#gC)"/>
<circle cx="574.4" cy="607.3" r="3.75" fill="url(#gC)"/>
<circle cx="583.2" cy="626" r="3.75" fill="url(#gC)"/>
<circle cx="572.1" cy="628.5" r="3.75" fill="url(#gC)"/>
<circle cx="560.7" cy="622.9" r="3.75" fill="url(#gC)"/>
<circle cx="561.5" cy="610.7" r="3.75" fill="url(#gC)"/>
<circle cx="540.5" cy="614" r="3.75" fill="url(#gC)"/>
<circle cx="528.4" cy="614" r="3.75" fill="url(#gC)"/>
<circle cx="521.9" cy="610.7" r="3.75" fill="url(#gC)"/>
<circle cx="520.3" cy="616.4" r="3.75" fill="url(#gC)"/>
<circle cx="507.4" cy="610.7" r="3.75" fill="url(#gC)"/>
<circle cx="504.9" cy="615.6" r="3.75" fill="url(#gC)"/>
<circle cx="498.5" cy="612.4" r="3.75" fill="url(#gC)"/>
<circle cx="530.7" cy="566.9" r="3.8" fill="url(#gN)"/>
<circle cx="543.7" cy="582.3" r="3.8" fill="url(#gN)"/>
<circle cx="617.5" cy="542.2" r="3.8" fill="url(#gN)"/>
<circle cx="616.8" cy="559.1" r="3.8" fill="url(#gN)"/>
<circle cx="622.4" cy="583" r="3.8" fill="url(#gN)"/>
<circle cx="634.7" cy="599.6" r="3.8" fill="url(#gN)"/>
<circle cx="549.4" cy="605.1" r="3.8" fill="url(#gN)"/>
<circle cx="546.2" cy="624.5" r="3.8" fill="url(#gN)"/>
<circle cx="540.4" cy="540.2" r="2.8" fill="url(#gH)"/>
<circle cx="562.3" cy="535.4" r="2.8" fill="url(#gH)"/>
<circle cx="567.9" cy="576.6" r="2.8" fill="url(#gH)"/>
<circle cx="523.5" cy="562.9" r="2.8" fill="url(#gH)"/>
<circle cx="525.1" cy="586.3" r="2.8" fill="url(#gH)"/>
<circle cx="572" cy="535.4" r="2.8" fill="url(#gH)"/>
<circle cx="593.5" cy="527.7" r="2.8" fill="url(#gH)"/>
<circle cx="590" cy="567" r="2.8" fill="url(#gH)"/>
<circle cx="621.9" cy="534.9" r="2.8" fill="url(#gH)"/>
<circle cx="618.2" cy="568.7" r="2.8" fill="url(#gH)"/>
<circle cx="641" cy="550.3" r="2.8" fill="url(#gH)"/>
<circle cx="663.8" cy="552.5" r="2.8" fill="url(#gH)"/>
<circle cx="676.3" cy="554.7" r="2.8" fill="url(#gH)"/>
<circle cx="641.3" cy="579.7" r="2.8" fill="url(#gH)"/>
<circle cx="642.1" cy="604" r="2.8" fill="url(#gH)"/>
<circle cx="597.2" cy="590.7" r="2.8" fill="url(#gH)"/>
<circle cx="603.8" cy="629" r="2.8" fill="url(#gH)"/>
<circle cx="625.1" cy="625.3" r="2.8" fill="url(#gH)"/>
<circle cx="575.2" cy="599.5" r="2.8" fill="url(#gH)"/>
<circle cx="591.3" cy="631.2" r="2.8" fill="url(#gH)"/>
<circle cx="570.4" cy="639" r="2.8" fill="url(#gH)"/>
<circle cx="547" cy="597.8" r="2.8" fill="url(#gH)"/>
<circle cx="542.1" cy="632.6" r="2.8" fill="url(#gH)"/>
<circle cx="522.7" cy="617.2" r="2.8" fill="url(#gH)"/>
<circle cx="497.6" cy="615.6" r="2.8" fill="url(#gH)"/>
<circle cx="487.9" cy="612.4" r="2.8" fill="url(#gH)"/>
<line x1="63.5" y1="83" x2="66.6" y2="94" stroke="#222" stroke-width="1.1" stroke-dasharray="1.2,1.1"/>
<line x1="138" y1="52.5" x2="138.6" y2="61.5" stroke="#222" stroke-width="1.1" stroke-dasharray="1.2,1.1"/>
<line x1="297" y1="88.5" x2="298.6" y2="96" stroke="#222" stroke-width="1.1" stroke-dasharray="1.2,1.1"/>
<line x1="365.3" y1="52" x2="365.6" y2="58.5" stroke="#222" stroke-width="1.1" stroke-dasharray="1.2,1.1"/>
<line x1="536.9" y1="71.5" x2="538.6" y2="81" stroke="#222" stroke-width="1.1" stroke-dasharray="1.2,1.1"/>
<line x1="616.5" y1="56.2" x2="617.4" y2="65" stroke="#222" stroke-width="1.1" stroke-dasharray="1.2,1.1"/>
<line x1="62.3" y1="594.5" x2="63.6" y2="603" stroke="#222" stroke-width="1.1" stroke-dasharray="1.2,1.1"/>
<line x1="131.2" y1="563.5" x2="131.8" y2="573" stroke="#222" stroke-width="1.1" stroke-dasharray="1.2,1.1"/>
<line x1="300.4" y1="592.5" x2="301.4" y2="598" stroke="#222" stroke-width="1.1" stroke-dasharray="1.2,1.1"/>
<line x1="374.6" y1="577" x2="375.5" y2="585" stroke="#222" stroke-width="1.1" stroke-dasharray="1.2,1.1"/>
<line x1="544.6" y1="588.1" x2="546.2" y2="595.4" stroke="#222" stroke-width="1.1" stroke-dasharray="1.2,1.1"/>
<line x1="619" y1="571.6" x2="619" y2="579.7" stroke="#222" stroke-width="1.1" stroke-dasharray="1.2,1.1"/>
<circle cx="55.9" cy="61.8" r="5.2" fill="#fff" fill-opacity="0.92"/>
<circle cx="55.9" cy="61.8" r="2.95" fill="#fff" stroke="#f02828" stroke-width="0.95"/>
<path d="M52.95,61.8 h5.9 M55.9,58.85 v5.9" stroke="#f02828" stroke-width="0.85"/>
<circle cx="147.1" cy="83.8" r="5.2" fill="#fff" fill-opacity="0.92"/>
<circle cx="147.1" cy="83.8" r="2.95" fill="#fff" stroke="#f02828" stroke-width="0.95"/>
<path d="M144.15,83.8 h5.9 M147.1,80.85 v5.9" stroke="#f02828" stroke-width="0.85"/>
<circle cx="290.2" cy="92.9" r="4.68" fill="#fff" fill-opacity="0.92"/>
<circle cx="290.2" cy="92.9" r="2.66" fill="#fff" stroke="#f02828" stroke-width="0.95"/>
<path d="M287.55,92.9 h5.31 M290.2,90.25 v5.31" stroke="#f02828" stroke-width="0.85"/>
<circle cx="376.2" cy="81.3" r="5.2" fill="#fff" fill-opacity="0.92"/>
<circle cx="376.2" cy="81.3" r="2.95" fill="#fff" stroke="#f02828" stroke-width="0.95"/>
<path d="M373.25,81.3 h5.9 M376.2,78.35 v5.9" stroke="#f02828" stroke-width="0.85"/>
<circle cx="609.4" cy="34.1" r="5.2" fill="#fff" fill-opacity="0.92"/>
<circle cx="609.4" cy="34.1" r="2.95" fill="#fff" stroke="#f02828" stroke-width="0.95"/>
<path d="M606.45,34.1 h5.9 M609.4,31.15 v5.9" stroke="#f02828" stroke-width="0.85"/>
<circle cx="545" cy="103.8" r="5.2" fill="#fff" fill-opacity="0.92"/>
<circle cx="545" cy="103.8" r="2.95" fill="#fff" stroke="#f02828" stroke-width="0.95"/>
<path d="M542.05,103.8 h5.9 M545,100.85 v5.9" stroke="#f02828" stroke-width="0.85"/>
<circle cx="54.2" cy="572.7" r="4.68" fill="#fff" fill-opacity="0.92"/>
<circle cx="54.2" cy="572.7" r="2.66" fill="#fff" stroke="#f02828" stroke-width="0.95"/>
<path d="M51.55,572.7 h5.31 M54.2,570.05 v5.31" stroke="#f02828" stroke-width="0.85"/>
<circle cx="138.9" cy="593" r="4.68" fill="#fff" fill-opacity="0.92"/>
<circle cx="138.9" cy="593" r="2.66" fill="#fff" stroke="#f02828" stroke-width="0.95"/>
<path d="M136.25,593 h5.31 M138.9,590.35 v5.31" stroke="#f02828" stroke-width="0.85"/>
<circle cx="366.5" cy="554.1" r="4.68" fill="#fff" fill-opacity="0.92"/>
<circle cx="366.5" cy="554.1" r="2.66" fill="#fff" stroke="#f02828" stroke-width="0.95"/>
<path d="M363.85,554.1 h5.31 M366.5,551.45 v5.31" stroke="#f02828" stroke-width="0.85"/>
<circle cx="307.1" cy="617.4" r="4.68" fill="#fff" fill-opacity="0.92"/>
<circle cx="307.1" cy="617.4" r="2.66" fill="#fff" stroke="#f02828" stroke-width="0.95"/>
<path d="M304.45,617.4 h5.31 M307.1,614.75 v5.31" stroke="#f02828" stroke-width="0.85"/>
<circle cx="612.4" cy="551" r="4.68" fill="#fff" fill-opacity="0.92"/>
<circle cx="612.4" cy="551" r="2.66" fill="#fff" stroke="#f02828" stroke-width="0.95"/>
<path d="M609.75,551 h5.31 M612.4,548.35 v5.31" stroke="#f02828" stroke-width="0.85"/>
<circle cx="551.8" cy="616.9" r="4.68" fill="#fff" fill-opacity="0.92"/>
<circle cx="551.8" cy="616.9" r="2.66" fill="#fff" stroke="#f02828" stroke-width="0.95"/>
<path d="M549.14,616.9 h5.31 M551.8,614.25 v5.31" stroke="#f02828" stroke-width="0.85"/>
</g>
<line x1="55.1" y1="76.8" x2="58.31" y2="87.29" stroke="#ff4a4a" stroke-width="0.75"/>
<path d="M59.6,91.5 L56.21,87.94 L60.42,86.65 Z" fill="#ff1a1a"/>
<line x1="146.7" y1="62.9" x2="143.17" y2="52.08" stroke="#ff4a4a" stroke-width="0.75"/>
<path d="M141.8,47.9 L145.26,51.4 L141.08,52.77 Z" fill="#ff1a1a"/>
<line x1="53.6" y1="587.6" x2="56.49" y2="598.64" stroke="#ff4a4a" stroke-width="0.75"/>
<path d="M57.6,602.9 L54.36,599.2 L58.62,598.09 Z" fill="#ff1a1a"/>
<line x1="140" y1="578.2" x2="136.78" y2="566.64" stroke="#ff4a4a" stroke-width="0.75"/>
<path d="M135.6,562.4 L138.9,566.05 L134.66,567.23 Z" fill="#ff1a1a"/>
</svg>
<svg id="txt" width="680" height="1030" viewBox="0 0 680 1030">
<text x="177.5" y="471.5" font-size="12" text-anchor="middle" >&#8722;0.5</text>
<text x="212.82" y="471.5" font-size="12" text-anchor="middle" >0</text>
<text x="248.13" y="471.5" font-size="12" text-anchor="middle" >0.5</text>
<text x="283.45" y="471.5" font-size="12" text-anchor="middle" >1.0</text>
<text x="318.76" y="471.5" font-size="12" text-anchor="middle" >1.5</text>
<text x="354.08" y="471.5" font-size="12" text-anchor="middle" >2.0</text>
<text x="389.39" y="471.5" font-size="12" text-anchor="middle" >2.5</text>
<text x="424.71" y="471.5" font-size="12" text-anchor="middle" >3.0</text>
<text x="460.03" y="471.5" font-size="12" text-anchor="middle" >3.5</text>
<text x="495.34" y="471.5" font-size="12" text-anchor="middle" >4.0</text>
<text x="167.9" y="188" font-size="12" text-anchor="end" >10</text>
<text x="167.9" y="241.86" font-size="12" text-anchor="end" >5</text>
<text x="167.9" y="295.72" font-size="12" text-anchor="end" >0</text>
<text x="167.9" y="349.58" font-size="12" text-anchor="end" >&#8722;5</text>
<text x="167.9" y="403.44" font-size="12" text-anchor="end" >&#8722;10</text>
<text x="167.9" y="457.3" font-size="12" text-anchor="end" >&#8722;15</text>
<text x="521.5" y="186.9" font-size="12" text-anchor="start" >0</text>
<text x="521.5" y="228.33" font-size="12" text-anchor="start" >&#8722;50</text>
<text x="521.5" y="269.76" font-size="12" text-anchor="start" >&#8722;100</text>
<text x="521.5" y="311.19" font-size="12" text-anchor="start" >&#8722;150</text>
<text x="521.5" y="352.62" font-size="12" text-anchor="start" >&#8722;200</text>
<text x="521.5" y="394.05" font-size="12" text-anchor="start" >&#8722;250</text>
<text x="521.5" y="435.48" font-size="12" text-anchor="start" >&#8722;300</text>
<text x="338" y="491.5" font-size="15.25" text-anchor="middle" >mass-weighted Cartesians</text>
<text transform="translate(149.3,322.7) rotate(-90)" font-size="13.9" text-anchor="middle">&#916;<tspan font-style="italic">E</tspan><tspan font-size="8.7" dy="-5">Rel</tspan><tspan dy="5"> (kJ mol</tspan><tspan font-size="8.7" dy="-5">&#8722;1</tspan><tspan dy="5">)</tspan></text>
<text transform="translate(566.3,319.4) rotate(-90)" font-size="13.9" text-anchor="middle">&#916;<tspan font-style="italic">E</tspan><tspan font-size="8.7" dy="-5">H-bond</tspan><tspan dy="5"> (kJ mol</tspan><tspan font-size="8.7" dy="-5">&#8722;1</tspan><tspan dy="5">)</tspan></text>
<text x="205" y="341.6" font-size="10.2">&#916;<tspan font-style="italic">E</tspan><tspan font-size="7.4" dy="-3.4">Rel</tspan></text>
<text x="204" y="357.3" font-size="10.2">&#916;<tspan font-style="italic">E</tspan><tspan font-size="7.4" dy="-3.4">H-bond</tspan></text>
<text x="204" y="371.2" font-size="10.2">&#916;<tspan font-style="italic">E</tspan><tspan font-size="7.4" dy="-3.4">H-bond/CP</tspan></text>
<text x="193.2" y="307.6" font-size="13.8">CC-[1]<tspan font-size="9.38" dy="-5.2">2+</tspan></text>
<text x="288.8" y="223.4" font-size="13.8">CC-[2]<tspan font-size="9.38" dy="-5.2">2+,&#8225;</tspan></text>
<text x="462" y="422.4" font-size="13.8">CC-[3]<tspan font-size="9.38" dy="-5.2">2+</tspan></text>
<text x="223.5" y="208.2" font-size="13.2">&#916;<tspan font-style="italic">E</tspan><tspan font-size="7" dy="-5">&#8225;</tspan><tspan dy="5"> = 6.27</tspan></text>
<text x="206.23" y="1008" font-size="12" text-anchor="middle" >0</text>
<text x="255.32" y="1008" font-size="12" text-anchor="middle" >1.5</text>
<text x="304.41" y="1008" font-size="12" text-anchor="middle" >3.0</text>
<text x="353.5" y="1008" font-size="12" text-anchor="middle" >4.5</text>
<text x="402.59" y="1008" font-size="12" text-anchor="middle" >6.0</text>
<text x="451.68" y="1008" font-size="12" text-anchor="middle" >7.5</text>
<text x="500.77" y="1008" font-size="12" text-anchor="middle" >9.0</text>
<text x="163.5" y="720.58" font-size="12" text-anchor="end" >70</text>
<text x="163.5" y="754.53" font-size="12" text-anchor="end" >60</text>
<text x="163.5" y="788.48" font-size="12" text-anchor="end" >50</text>
<text x="163.5" y="822.44" font-size="12" text-anchor="end" >40</text>
<text x="163.5" y="856.39" font-size="12" text-anchor="end" >30</text>
<text x="163.5" y="890.34" font-size="12" text-anchor="end" >20</text>
<text x="163.5" y="924.29" font-size="12" text-anchor="end" >10</text>
<text x="163.5" y="958.25" font-size="12" text-anchor="end" >0</text>
<text x="163.5" y="992.2" font-size="12" text-anchor="end" >&#8722;10</text>
<text x="543" y="719.48" font-size="12" text-anchor="start" >&#8722;60</text>
<text x="543" y="753.43" font-size="12" text-anchor="start" >&#8722;80</text>
<text x="543" y="787.38" font-size="12" text-anchor="start" >&#8722;100</text>
<text x="543" y="821.34" font-size="12" text-anchor="start" >&#8722;120</text>
<text x="543" y="855.29" font-size="12" text-anchor="start" >&#8722;140</text>
<text x="543" y="889.24" font-size="12" text-anchor="start" >&#8722;160</text>
<text x="543" y="923.19" font-size="12" text-anchor="start" >&#8722;180</text>
<text x="543" y="957.15" font-size="12" text-anchor="start" >&#8722;200</text>
<text x="543" y="991.1" font-size="12" text-anchor="start" >&#8722;220</text>
<text x="352.6" y="1026" font-size="15.9" text-anchor="middle" >mass-weighted Cartesians</text>
<text transform="translate(138.3,844.4) rotate(-90)" font-size="13.9" text-anchor="middle">&#916;<tspan font-style="italic">E</tspan><tspan font-size="8.7" dy="-5">Rel</tspan><tspan dy="5"> (kJ mol</tspan><tspan font-size="8.7" dy="-5">&#8722;1</tspan><tspan dy="5">)</tspan></text>
<text transform="translate(588.8,843.4) rotate(-90)" font-size="13.9" text-anchor="middle">&#916;<tspan font-style="italic">E</tspan><tspan font-size="8.7" dy="-5">H-bond</tspan><tspan dy="5"> (kJ mol</tspan><tspan font-size="8.7" dy="-5">&#8722;1</tspan><tspan dy="5">)</tspan></text>
<text x="201.6" y="841.7" font-size="10.2">&#916;<tspan font-style="italic">E</tspan><tspan font-size="7.4" dy="-3.4">Rel</tspan></text>
<text x="200.6" y="856.4" font-size="10.2">&#916;<tspan font-style="italic">E</tspan><tspan font-size="7.4" dy="-3.4">H-bond</tspan></text>
<text x="200.6" y="869.5" font-size="10.2">&#916;<tspan font-style="italic">E</tspan><tspan font-size="7.4" dy="-3.4">H-bond/CP</tspan></text>
<text x="190.6" y="948.2" font-size="13.6">CC-[1]<tspan font-size="9.25" dy="-5.2">2+</tspan></text>
<text x="350.5" y="730.8" font-size="13.2">CC-[2]<tspan font-size="8.98" dy="-5.2">2+,&#8225;</tspan></text>
<text x="468.5" y="957" font-size="13.6">CC-[3]<tspan font-size="9.25" dy="-5.2">2+</tspan></text>
<text x="279.3" y="716" font-size="13">&#916;E<tspan font-size="7" dy="-5">&#8225;</tspan><tspan dy="5"> = 64.74</tspan></text>
<text x="0.5" y="12.6" font-size="15">(<tspan font-style="italic">a</tspan>)</text>
<text x="0.5" y="524.9" font-size="15">(<tspan font-style="italic">b</tspan>)</text>
<text x="77.6" y="152.8" font-size="13.8">CC-[1]<tspan font-size="9.4" dy="-5.5">2+</tspan></text>
<text x="311.8" y="152.4" font-size="13.8">CC-[2]<tspan font-size="9.4" dy="-5.5">2+,&#8225;</tspan></text>
<text x="553.2" y="152.4" font-size="13.8">CC-[3]<tspan font-size="9.4" dy="-5.5">2+</tspan></text>
<text x="77.6" y="665.6" font-size="13.8">CC-[1]<tspan font-size="9.4" dy="-5.5">2+</tspan></text>
<text x="311.8" y="665.3" font-size="13.8">CC-[2]<tspan font-size="9.4" dy="-5.5">2+,&#8225;</tspan></text>
<text x="553.2" y="665.3" font-size="13.8">CC-[3]<tspan font-size="9.4" dy="-5.5">2+</tspan></text>
<text x="68.8" y="88.3" font-size="8.3">(1)</text>
<text x="125" y="59.8" font-size="8.3">(2)</text>
<text x="300.8" y="88.4" font-size="8.3">(1)</text>
<text x="366" y="57.3" font-size="8.3">(2)</text>
<text x="543.4" y="79.4" font-size="8.3">(1)</text>
<text x="619" y="62.2" font-size="8.3">(2)</text>
<text x="64.3" y="601.3" font-size="9.2">(1)</text>
<text x="117.7" y="571.8" font-size="9.2">(2)</text>
<text x="303.6" y="596.2" font-size="11">(1)</text>
<text x="359" y="586" font-size="11">(2)</text>
<text x="548.3" y="593.8" font-size="11">(1)</text>
<text x="603.4" y="581.2" font-size="11">(2)</text>
</svg></div></body></html>
